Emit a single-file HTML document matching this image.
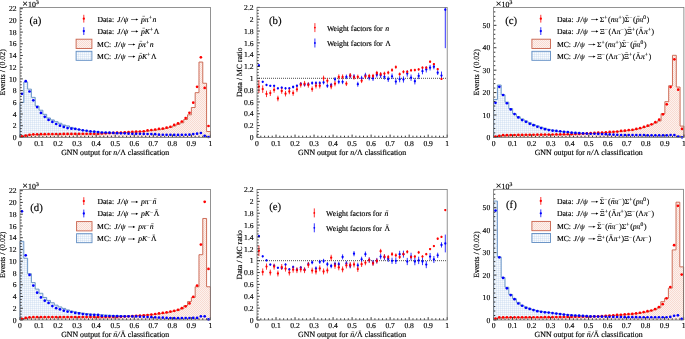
<!DOCTYPE html>
<html><head><meta charset="utf-8"><style>
html,body{margin:0;padding:0;background:#fff;width:685px;height:339px;overflow:hidden}
svg{display:block;will-change:transform}
text{font-family:"Liberation Serif",serif;fill:#000;white-space:pre;stroke:#000;stroke-width:0.15px;text-rendering:geometricPrecision}
</style></head><body>
<svg width="685" height="339" viewBox="0 0 685 339">
<defs>
<pattern id="pb" patternUnits="userSpaceOnUse" width="2" height="2"><rect width="2" height="2" fill="#f8fbfe"/><path d="M0 0h2v1h-2zM0 1h1v1h-1z" fill="#e6eef8"/><path d="M0 0h1v1h-1z" fill="#d8e5f4"/></pattern>
<pattern id="pr" patternUnits="userSpaceOnUse" width="2" height="2"><rect width="2" height="2" fill="#fdf1ed"/><path d="M0 0h1v1h-1zM1 1h1v1h-1z" fill="#f8dbd2"/></pattern>
</defs>
<rect width="685" height="339" fill="#fff"/>
<path d="M20.00 137.40 L20.00 102.50 L23.81 102.50 L23.81 82.07 L27.62 82.07 L27.62 89.14 L31.42 89.14 L31.42 97.38 L35.23 97.38 L35.23 106.03 L39.04 106.03 L39.04 110.21 L42.85 110.21 L42.85 114.33 L46.66 114.33 L46.66 117.98 L50.46 117.98 L50.46 119.92 L54.27 119.92 L54.27 121.69 L58.08 121.69 L58.08 123.27 L61.89 123.27 L61.89 125.04 L65.70 125.04 L65.70 125.92 L69.50 125.92 L69.50 127.39 L73.31 127.39 L73.31 128.87 L77.12 128.87 L77.12 129.57 L80.93 129.57 L80.93 130.34 L84.74 130.34 L84.74 130.93 L88.54 130.93 L88.54 131.40 L92.35 131.40 L92.35 131.69 L96.16 131.69 L96.16 131.99 L99.97 131.99 L99.97 132.22 L103.78 132.22 L103.78 132.46 L107.58 132.46 L107.58 132.65 L111.39 132.65 L111.39 132.85 L115.20 132.85 L115.20 133.04 L119.01 133.04 L119.01 133.22 L122.82 133.22 L122.82 133.40 L126.62 133.40 L126.62 133.57 L130.43 133.57 L130.43 133.72 L134.24 133.72 L134.24 133.87 L138.05 133.87 L138.05 133.99 L141.86 133.99 L141.86 134.10 L145.66 134.10 L145.66 134.22 L149.47 134.22 L149.47 134.34 L153.28 134.34 L153.28 134.46 L157.09 134.46 L157.09 134.49 L160.90 134.49 L160.90 134.53 L164.70 134.53 L164.70 134.56 L168.51 134.56 L168.51 134.60 L172.32 134.60 L172.32 134.63 L176.13 134.63 L176.13 134.59 L179.94 134.59 L179.94 134.55 L183.74 134.55 L183.74 134.50 L187.55 134.50 L187.55 134.46 L191.36 134.46 L191.36 134.16 L195.17 134.16 L195.17 133.87 L198.98 133.87 L198.98 132.69 L202.78 132.69 L202.78 135.34 L206.59 135.34 L206.59 136.81 L210.40 136.81 L210.40 137.40" fill="url(#pb)" stroke="#5f8cc2" stroke-width="0.9"/>
<path d="M20.00 137.40 L20.00 136.52 L23.81 136.52 L23.81 135.34 L27.62 135.34 L27.62 134.75 L31.42 134.75 L31.42 134.46 L35.23 134.46 L35.23 134.40 L39.04 134.40 L39.04 134.34 L42.85 134.34 L42.85 134.30 L46.66 134.30 L46.66 134.27 L50.46 134.27 L50.46 134.23 L54.27 134.23 L54.27 134.20 L58.08 134.20 L58.08 134.16 L61.89 134.16 L61.89 134.14 L65.70 134.14 L65.70 134.12 L69.50 134.12 L69.50 134.09 L73.31 134.09 L73.31 134.07 L77.12 134.07 L77.12 134.05 L80.93 134.05 L80.93 134.03 L84.74 134.03 L84.74 134.02 L88.54 134.02 L88.54 134.01 L92.35 134.01 L92.35 134.00 L96.16 134.00 L96.16 133.99 L99.97 133.99 L99.97 133.79 L103.78 133.79 L103.78 133.59 L107.58 133.59 L107.58 133.39 L111.39 133.39 L111.39 133.19 L115.20 133.19 L115.20 132.99 L119.01 132.99 L119.01 132.77 L122.82 132.77 L122.82 132.55 L126.62 132.55 L126.62 132.34 L130.43 132.34 L130.43 132.16 L134.24 132.16 L134.24 131.99 L138.05 131.99 L138.05 131.67 L141.86 131.67 L141.86 131.36 L145.66 131.36 L145.66 131.04 L149.47 131.04 L149.47 130.63 L153.28 130.63 L153.28 130.22 L157.09 130.22 L157.09 129.69 L160.90 129.69 L160.90 129.16 L164.70 129.16 L164.70 128.28 L168.51 128.28 L168.51 127.39 L172.32 127.39 L172.32 125.92 L176.13 125.92 L176.13 124.45 L179.94 124.45 L179.94 122.80 L183.74 122.80 L183.74 119.51 L187.55 119.51 L187.55 114.80 L191.36 114.80 L191.36 107.50 L195.17 107.50 L195.17 92.67 L198.98 92.67 L198.98 62.06 L202.78 62.06 L202.78 83.25 L206.59 83.25 L206.59 131.51 L210.40 131.51 L210.40 137.40" fill="url(#pr)" stroke="#c8604a" stroke-width="0.9"/>
<circle cx="21.90" cy="136.40" r="1.35" fill="#ff0000"/>
<circle cx="25.71" cy="135.63" r="1.35" fill="#ff0000"/>
<circle cx="29.52" cy="134.93" r="1.35" fill="#ff0000"/>
<circle cx="33.33" cy="134.46" r="1.35" fill="#ff0000"/>
<circle cx="37.14" cy="134.31" r="1.35" fill="#ff0000"/>
<circle cx="40.94" cy="134.16" r="1.35" fill="#ff0000"/>
<circle cx="44.75" cy="134.13" r="1.35" fill="#ff0000"/>
<circle cx="48.56" cy="134.09" r="1.35" fill="#ff0000"/>
<circle cx="52.37" cy="134.06" r="1.35" fill="#ff0000"/>
<circle cx="56.18" cy="134.02" r="1.35" fill="#ff0000"/>
<circle cx="59.98" cy="133.99" r="1.35" fill="#ff0000"/>
<circle cx="63.79" cy="133.96" r="1.35" fill="#ff0000"/>
<circle cx="67.60" cy="133.93" r="1.35" fill="#ff0000"/>
<circle cx="71.41" cy="133.90" r="1.35" fill="#ff0000"/>
<circle cx="75.22" cy="133.87" r="1.35" fill="#ff0000"/>
<circle cx="79.02" cy="133.86" r="1.35" fill="#ff0000"/>
<circle cx="82.83" cy="133.85" r="1.35" fill="#ff0000"/>
<circle cx="86.64" cy="133.84" r="1.35" fill="#ff0000"/>
<circle cx="90.45" cy="133.83" r="1.35" fill="#ff0000"/>
<circle cx="94.26" cy="133.82" r="1.35" fill="#ff0000"/>
<circle cx="98.06" cy="133.81" r="1.35" fill="#ff0000"/>
<circle cx="101.87" cy="133.52" r="1.35" fill="#ff0000"/>
<circle cx="105.68" cy="133.28" r="1.35" fill="#ff0000"/>
<circle cx="109.49" cy="133.04" r="1.35" fill="#ff0000"/>
<circle cx="113.30" cy="132.81" r="1.35" fill="#ff0000"/>
<circle cx="117.10" cy="132.69" r="1.35" fill="#ff0000"/>
<circle cx="120.91" cy="132.51" r="1.35" fill="#ff0000"/>
<circle cx="124.72" cy="132.28" r="1.35" fill="#ff0000"/>
<circle cx="128.53" cy="132.10" r="1.35" fill="#ff0000"/>
<circle cx="132.34" cy="131.81" r="1.35" fill="#ff0000"/>
<circle cx="136.14" cy="131.63" r="1.35" fill="#ff0000"/>
<circle cx="139.95" cy="131.51" r="1.35" fill="#ff0000"/>
<circle cx="143.76" cy="131.28" r="1.35" fill="#ff0000"/>
<circle cx="147.57" cy="130.45" r="1.35" fill="#ff0000"/>
<circle cx="151.38" cy="129.98" r="1.35" fill="#ff0000"/>
<circle cx="155.18" cy="129.51" r="1.35" fill="#ff0000"/>
<circle cx="158.99" cy="128.81" r="1.35" fill="#ff0000"/>
<circle cx="162.80" cy="128.57" r="1.35" fill="#ff0000"/>
<circle cx="166.61" cy="127.63" r="1.35" fill="#ff0000"/>
<circle cx="170.42" cy="126.75" r="1.35" fill="#ff0000"/>
<circle cx="174.22" cy="124.92" r="1.35" fill="#ff0000"/>
<circle cx="178.03" cy="123.33" r="1.35" fill="#ff0000"/>
<circle cx="181.84" cy="121.51" r="1.35" fill="#ff0000"/>
<circle cx="185.65" cy="118.09" r="1.35" fill="#ff0000"/>
<circle cx="189.46" cy="112.80" r="1.35" fill="#ff0000"/>
<circle cx="193.26" cy="102.67" r="1.35" fill="#ff0000"/>
<circle cx="197.07" cy="86.78" r="1.35" fill="#ff0000"/>
<circle cx="200.88" cy="57.35" r="1.35" fill="#ff0000"/>
<circle cx="204.69" cy="87.96" r="1.35" fill="#ff0000"/>
<circle cx="208.50" cy="125.98" r="1.35" fill="#ff0000"/>
<circle cx="21.90" cy="93.85" r="1.35" fill="#0000ff"/>
<circle cx="25.71" cy="81.19" r="1.35" fill="#0000ff"/>
<circle cx="29.52" cy="91.49" r="1.35" fill="#0000ff"/>
<circle cx="33.33" cy="100.32" r="1.35" fill="#0000ff"/>
<circle cx="37.14" cy="107.09" r="1.35" fill="#0000ff"/>
<circle cx="40.94" cy="112.92" r="1.35" fill="#0000ff"/>
<circle cx="44.75" cy="116.80" r="1.35" fill="#0000ff"/>
<circle cx="48.56" cy="119.92" r="1.35" fill="#0000ff"/>
<circle cx="52.37" cy="121.92" r="1.35" fill="#0000ff"/>
<circle cx="56.18" cy="123.98" r="1.35" fill="#0000ff"/>
<circle cx="59.98" cy="125.69" r="1.35" fill="#0000ff"/>
<circle cx="63.79" cy="126.92" r="1.35" fill="#0000ff"/>
<circle cx="67.60" cy="128.10" r="1.35" fill="#0000ff"/>
<circle cx="71.41" cy="128.69" r="1.35" fill="#0000ff"/>
<circle cx="75.22" cy="128.81" r="1.35" fill="#0000ff"/>
<circle cx="79.02" cy="129.51" r="1.35" fill="#0000ff"/>
<circle cx="82.83" cy="130.34" r="1.35" fill="#0000ff"/>
<circle cx="86.64" cy="130.75" r="1.35" fill="#0000ff"/>
<circle cx="90.45" cy="131.46" r="1.35" fill="#0000ff"/>
<circle cx="94.26" cy="131.63" r="1.35" fill="#0000ff"/>
<circle cx="98.06" cy="132.04" r="1.35" fill="#0000ff"/>
<circle cx="101.87" cy="132.51" r="1.35" fill="#0000ff"/>
<circle cx="105.68" cy="132.51" r="1.35" fill="#0000ff"/>
<circle cx="109.49" cy="132.69" r="1.35" fill="#0000ff"/>
<circle cx="113.30" cy="132.93" r="1.35" fill="#0000ff"/>
<circle cx="117.10" cy="133.16" r="1.35" fill="#0000ff"/>
<circle cx="120.91" cy="133.34" r="1.35" fill="#0000ff"/>
<circle cx="124.72" cy="133.34" r="1.35" fill="#0000ff"/>
<circle cx="128.53" cy="133.63" r="1.35" fill="#0000ff"/>
<circle cx="132.34" cy="133.81" r="1.35" fill="#0000ff"/>
<circle cx="136.14" cy="133.84" r="1.35" fill="#0000ff"/>
<circle cx="139.95" cy="133.87" r="1.35" fill="#0000ff"/>
<circle cx="143.76" cy="133.93" r="1.35" fill="#0000ff"/>
<circle cx="147.57" cy="133.99" r="1.35" fill="#0000ff"/>
<circle cx="151.38" cy="134.07" r="1.35" fill="#0000ff"/>
<circle cx="155.18" cy="134.16" r="1.35" fill="#0000ff"/>
<circle cx="158.99" cy="134.69" r="1.35" fill="#0000ff"/>
<circle cx="162.80" cy="134.74" r="1.35" fill="#0000ff"/>
<circle cx="166.61" cy="134.79" r="1.35" fill="#0000ff"/>
<circle cx="170.42" cy="134.83" r="1.35" fill="#0000ff"/>
<circle cx="174.22" cy="134.88" r="1.35" fill="#0000ff"/>
<circle cx="178.03" cy="134.93" r="1.35" fill="#0000ff"/>
<circle cx="181.84" cy="134.85" r="1.35" fill="#0000ff"/>
<circle cx="185.65" cy="134.77" r="1.35" fill="#0000ff"/>
<circle cx="189.46" cy="134.69" r="1.35" fill="#0000ff"/>
<circle cx="193.26" cy="134.10" r="1.35" fill="#0000ff"/>
<circle cx="197.07" cy="133.69" r="1.35" fill="#0000ff"/>
<circle cx="200.88" cy="132.99" r="1.35" fill="#0000ff"/>
<circle cx="204.69" cy="135.81" r="1.35" fill="#0000ff"/>
<circle cx="208.50" cy="136.99" r="1.35" fill="#0000ff"/>
<path d="M20.00 137.40 v-2.80 M23.81 137.40 v-1.70 M27.62 137.40 v-1.70 M31.42 137.40 v-1.70 M35.23 137.40 v-1.70 M39.04 137.40 v-2.80 M42.85 137.40 v-1.70 M46.66 137.40 v-1.70 M50.46 137.40 v-1.70 M54.27 137.40 v-1.70 M58.08 137.40 v-2.80 M61.89 137.40 v-1.70 M65.70 137.40 v-1.70 M69.50 137.40 v-1.70 M73.31 137.40 v-1.70 M77.12 137.40 v-2.80 M80.93 137.40 v-1.70 M84.74 137.40 v-1.70 M88.54 137.40 v-1.70 M92.35 137.40 v-1.70 M96.16 137.40 v-2.80 M99.97 137.40 v-1.70 M103.78 137.40 v-1.70 M107.58 137.40 v-1.70 M111.39 137.40 v-1.70 M115.20 137.40 v-2.80 M119.01 137.40 v-1.70 M122.82 137.40 v-1.70 M126.62 137.40 v-1.70 M130.43 137.40 v-1.70 M134.24 137.40 v-2.80 M138.05 137.40 v-1.70 M141.86 137.40 v-1.70 M145.66 137.40 v-1.70 M149.47 137.40 v-1.70 M153.28 137.40 v-2.80 M157.09 137.40 v-1.70 M160.90 137.40 v-1.70 M164.70 137.40 v-1.70 M168.51 137.40 v-1.70 M172.32 137.40 v-2.80 M176.13 137.40 v-1.70 M179.94 137.40 v-1.70 M183.74 137.40 v-1.70 M187.55 137.40 v-1.70 M191.36 137.40 v-2.80 M195.17 137.40 v-1.70 M198.98 137.40 v-1.70 M202.78 137.40 v-1.70 M206.59 137.40 v-1.70 M210.40 137.40 v-2.80 M20.00 137.40 h2.80 M20.00 134.47 h1.70 M20.00 131.55 h1.70 M20.00 128.62 h1.70 M20.00 125.70 h2.80 M20.00 122.77 h1.70 M20.00 119.85 h1.70 M20.00 116.92 h1.70 M20.00 114.00 h2.80 M20.00 111.07 h1.70 M20.00 108.15 h1.70 M20.00 105.22 h1.70 M20.00 102.30 h2.80 M20.00 99.37 h1.70 M20.00 96.45 h1.70 M20.00 93.52 h1.70 M20.00 90.60 h2.80 M20.00 87.67 h1.70 M20.00 84.74 h1.70 M20.00 81.82 h1.70 M20.00 78.89 h2.80 M20.00 75.97 h1.70 M20.00 73.04 h1.70 M20.00 70.12 h1.70 M20.00 67.19 h2.80 M20.00 64.27 h1.70 M20.00 61.34 h1.70 M20.00 58.42 h1.70 M20.00 55.49 h2.80 M20.00 52.57 h1.70 M20.00 49.64 h1.70 M20.00 46.72 h1.70 M20.00 43.79 h2.80 M20.00 40.87 h1.70 M20.00 37.94 h1.70 M20.00 35.01 h1.70 M20.00 32.09 h2.80 M20.00 29.16 h1.70 M20.00 26.24 h1.70 M20.00 23.31 h1.70 M20.00 20.39 h2.80 M20.00 17.46 h1.70 M20.00 14.54 h1.70 M20.00 11.61 h1.70 M20.00 8.69 h2.80" stroke="#111" stroke-width="0.85" fill="none"/>
<rect x="20.00" y="7.40" width="190.40" height="130.00" fill="none" stroke="#777" stroke-width="0.80"/>
<text x="20.00" y="145.50" text-anchor="middle" font-size="7.60">0</text>
<text x="39.04" y="145.50" text-anchor="middle" font-size="7.60">0.1</text>
<text x="58.08" y="145.50" text-anchor="middle" font-size="7.60">0.2</text>
<text x="77.12" y="145.50" text-anchor="middle" font-size="7.60">0.3</text>
<text x="96.16" y="145.50" text-anchor="middle" font-size="7.60">0.4</text>
<text x="115.20" y="145.50" text-anchor="middle" font-size="7.60">0.5</text>
<text x="134.24" y="145.50" text-anchor="middle" font-size="7.60">0.6</text>
<text x="153.28" y="145.50" text-anchor="middle" font-size="7.60">0.7</text>
<text x="172.32" y="145.50" text-anchor="middle" font-size="7.60">0.8</text>
<text x="191.36" y="145.50" text-anchor="middle" font-size="7.60">0.9</text>
<text x="210.40" y="145.50" text-anchor="middle" font-size="7.60">1</text>
<text x="16.60" y="140.10" text-anchor="end" font-size="7.60">0</text>
<text x="16.60" y="128.40" text-anchor="end" font-size="7.60">2</text>
<text x="16.60" y="116.70" text-anchor="end" font-size="7.60">4</text>
<text x="16.60" y="105.00" text-anchor="end" font-size="7.60">6</text>
<text x="16.60" y="93.30" text-anchor="end" font-size="7.60">8</text>
<text x="16.60" y="81.59" text-anchor="end" font-size="7.60">10</text>
<text x="16.60" y="69.89" text-anchor="end" font-size="7.60">12</text>
<text x="16.60" y="58.19" text-anchor="end" font-size="7.60">14</text>
<text x="16.60" y="46.49" text-anchor="end" font-size="7.60">16</text>
<text x="16.60" y="34.79" text-anchor="end" font-size="7.60">18</text>
<text x="16.60" y="23.09" text-anchor="end" font-size="7.60">20</text>
<text x="16.60" y="11.39" text-anchor="end" font-size="7.60">22</text>
<path d="M493.60 137.40 L493.60 99.46 L497.41 99.46 L497.41 85.03 L501.21 85.03 L501.21 94.80 L505.02 94.80 L505.02 102.12 L508.82 102.12 L508.82 108.55 L512.63 108.55 L512.63 113.88 L516.44 113.88 L516.44 116.76 L520.24 116.76 L520.24 118.98 L524.05 118.98 L524.05 120.98 L527.85 120.98 L527.85 122.75 L531.66 122.75 L531.66 124.53 L535.47 124.53 L535.47 125.86 L539.27 125.86 L539.27 127.19 L543.08 127.19 L543.08 128.30 L546.88 128.30 L546.88 129.41 L550.69 129.41 L550.69 130.24 L554.50 130.24 L554.50 131.08 L558.30 131.08 L558.30 131.46 L562.11 131.46 L562.11 131.85 L565.91 131.85 L565.91 132.24 L569.72 132.24 L569.72 132.63 L573.53 132.63 L573.53 132.85 L577.33 132.85 L577.33 133.07 L581.14 133.07 L581.14 133.29 L584.94 133.29 L584.94 133.52 L588.75 133.52 L588.75 133.66 L592.56 133.66 L592.56 133.79 L596.36 133.79 L596.36 133.93 L600.17 133.93 L600.17 134.07 L603.97 134.07 L603.97 134.24 L607.78 134.24 L607.78 134.40 L611.59 134.40 L611.59 134.59 L615.39 134.59 L615.39 134.77 L619.20 134.77 L619.20 134.96 L623.00 134.96 L623.00 134.99 L626.81 134.99 L626.81 135.02 L630.62 135.02 L630.62 135.05 L634.42 135.05 L634.42 135.09 L638.23 135.09 L638.23 135.12 L642.03 135.12 L642.03 135.15 L645.84 135.15 L645.84 135.18 L649.65 135.18 L649.65 135.18 L653.45 135.18 L653.45 135.18 L657.26 135.18 L657.26 135.18 L661.06 135.18 L661.06 135.18 L664.87 135.18 L664.87 135.18 L668.68 135.18 L668.68 134.96 L672.48 134.96 L672.48 134.96 L676.29 134.96 L676.29 136.29 L680.09 136.29 L680.09 137.18 L683.90 137.18 L683.90 137.40" fill="url(#pb)" stroke="#5f8cc2" stroke-width="0.9"/>
<path d="M493.60 137.40 L493.60 136.73 L497.41 136.73 L497.41 136.07 L501.21 136.07 L501.21 135.40 L505.02 135.40 L505.02 135.18 L508.82 135.18 L508.82 135.12 L512.63 135.12 L512.63 135.05 L516.44 135.05 L516.44 134.99 L520.24 134.99 L520.24 134.93 L524.05 134.93 L524.05 134.86 L527.85 134.86 L527.85 134.80 L531.66 134.80 L531.66 134.74 L535.47 134.74 L535.47 134.70 L539.27 134.70 L539.27 134.66 L543.08 134.66 L543.08 134.63 L546.88 134.63 L546.88 134.59 L550.69 134.59 L550.69 134.55 L554.50 134.55 L554.50 134.52 L558.30 134.52 L558.30 134.46 L562.11 134.46 L562.11 134.40 L565.91 134.40 L565.91 134.35 L569.72 134.35 L569.72 134.29 L573.53 134.29 L573.53 134.13 L577.33 134.13 L577.33 133.96 L581.14 133.96 L581.14 133.79 L584.94 133.79 L584.94 133.63 L588.75 133.63 L588.75 133.46 L592.56 133.46 L592.56 133.29 L596.36 133.29 L596.36 133.13 L600.17 133.13 L600.17 132.96 L603.97 132.96 L603.97 132.63 L607.78 132.63 L607.78 132.30 L611.59 132.30 L611.59 131.96 L615.39 131.96 L615.39 131.63 L619.20 131.63 L619.20 131.30 L623.00 131.30 L623.00 130.97 L626.81 130.97 L626.81 130.52 L630.62 130.52 L630.62 130.08 L634.42 130.08 L634.42 129.30 L638.23 129.30 L638.23 128.52 L642.03 128.52 L642.03 127.41 L645.84 127.41 L645.84 126.31 L649.65 126.31 L649.65 124.53 L653.45 124.53 L653.45 122.98 L657.26 122.98 L657.26 120.98 L661.06 120.98 L661.06 113.66 L664.87 113.66 L664.87 101.67 L668.68 101.67 L668.68 85.70 L672.48 85.70 L672.48 55.30 L676.29 55.30 L676.29 87.03 L680.09 87.03 L680.09 126.08 L683.90 126.08 L683.90 137.40" fill="url(#pr)" stroke="#c8604a" stroke-width="0.9"/>
<circle cx="495.50" cy="136.51" r="1.35" fill="#ff0000"/>
<circle cx="499.31" cy="135.85" r="1.35" fill="#ff0000"/>
<circle cx="503.12" cy="135.18" r="1.35" fill="#ff0000"/>
<circle cx="506.92" cy="135.13" r="1.35" fill="#ff0000"/>
<circle cx="510.73" cy="135.07" r="1.35" fill="#ff0000"/>
<circle cx="514.53" cy="135.01" r="1.35" fill="#ff0000"/>
<circle cx="518.34" cy="134.96" r="1.35" fill="#ff0000"/>
<circle cx="522.14" cy="134.90" r="1.35" fill="#ff0000"/>
<circle cx="525.95" cy="134.85" r="1.35" fill="#ff0000"/>
<circle cx="529.76" cy="134.79" r="1.35" fill="#ff0000"/>
<circle cx="533.56" cy="134.74" r="1.35" fill="#ff0000"/>
<circle cx="537.37" cy="134.69" r="1.35" fill="#ff0000"/>
<circle cx="541.17" cy="134.65" r="1.35" fill="#ff0000"/>
<circle cx="544.98" cy="134.60" r="1.35" fill="#ff0000"/>
<circle cx="548.79" cy="134.56" r="1.35" fill="#ff0000"/>
<circle cx="552.59" cy="134.52" r="1.35" fill="#ff0000"/>
<circle cx="556.40" cy="134.47" r="1.35" fill="#ff0000"/>
<circle cx="560.21" cy="134.38" r="1.35" fill="#ff0000"/>
<circle cx="564.01" cy="134.29" r="1.35" fill="#ff0000"/>
<circle cx="567.82" cy="134.25" r="1.35" fill="#ff0000"/>
<circle cx="571.62" cy="134.20" r="1.35" fill="#ff0000"/>
<circle cx="575.43" cy="134.07" r="1.35" fill="#ff0000"/>
<circle cx="579.24" cy="133.94" r="1.35" fill="#ff0000"/>
<circle cx="583.04" cy="133.76" r="1.35" fill="#ff0000"/>
<circle cx="586.85" cy="133.41" r="1.35" fill="#ff0000"/>
<circle cx="590.65" cy="133.05" r="1.35" fill="#ff0000"/>
<circle cx="594.46" cy="132.90" r="1.35" fill="#ff0000"/>
<circle cx="598.26" cy="132.72" r="1.35" fill="#ff0000"/>
<circle cx="602.07" cy="132.63" r="1.35" fill="#ff0000"/>
<circle cx="605.88" cy="132.45" r="1.35" fill="#ff0000"/>
<circle cx="609.68" cy="131.96" r="1.35" fill="#ff0000"/>
<circle cx="613.49" cy="131.85" r="1.35" fill="#ff0000"/>
<circle cx="617.29" cy="131.56" r="1.35" fill="#ff0000"/>
<circle cx="621.10" cy="130.97" r="1.35" fill="#ff0000"/>
<circle cx="624.91" cy="130.68" r="1.35" fill="#ff0000"/>
<circle cx="628.71" cy="130.08" r="1.35" fill="#ff0000"/>
<circle cx="632.52" cy="129.79" r="1.35" fill="#ff0000"/>
<circle cx="636.33" cy="128.95" r="1.35" fill="#ff0000"/>
<circle cx="640.13" cy="128.08" r="1.35" fill="#ff0000"/>
<circle cx="643.94" cy="126.90" r="1.35" fill="#ff0000"/>
<circle cx="647.74" cy="125.64" r="1.35" fill="#ff0000"/>
<circle cx="651.55" cy="124.31" r="1.35" fill="#ff0000"/>
<circle cx="655.36" cy="122.20" r="1.35" fill="#ff0000"/>
<circle cx="659.16" cy="119.65" r="1.35" fill="#ff0000"/>
<circle cx="662.97" cy="114.32" r="1.35" fill="#ff0000"/>
<circle cx="666.77" cy="104.34" r="1.35" fill="#ff0000"/>
<circle cx="670.58" cy="87.03" r="1.35" fill="#ff0000"/>
<circle cx="674.38" cy="59.29" r="1.35" fill="#ff0000"/>
<circle cx="678.19" cy="89.69" r="1.35" fill="#ff0000"/>
<circle cx="682.00" cy="128.97" r="1.35" fill="#ff0000"/>
<circle cx="495.50" cy="102.78" r="1.35" fill="#0000ff"/>
<circle cx="499.31" cy="86.81" r="1.35" fill="#0000ff"/>
<circle cx="503.12" cy="95.02" r="1.35" fill="#0000ff"/>
<circle cx="506.92" cy="103.23" r="1.35" fill="#0000ff"/>
<circle cx="510.73" cy="109.44" r="1.35" fill="#0000ff"/>
<circle cx="514.53" cy="114.10" r="1.35" fill="#0000ff"/>
<circle cx="518.34" cy="117.43" r="1.35" fill="#0000ff"/>
<circle cx="522.14" cy="120.09" r="1.35" fill="#0000ff"/>
<circle cx="525.95" cy="121.87" r="1.35" fill="#0000ff"/>
<circle cx="529.76" cy="123.86" r="1.35" fill="#0000ff"/>
<circle cx="533.56" cy="125.20" r="1.35" fill="#0000ff"/>
<circle cx="537.37" cy="126.75" r="1.35" fill="#0000ff"/>
<circle cx="541.17" cy="128.08" r="1.35" fill="#0000ff"/>
<circle cx="544.98" cy="129.19" r="1.35" fill="#0000ff"/>
<circle cx="548.79" cy="130.08" r="1.35" fill="#0000ff"/>
<circle cx="552.59" cy="130.63" r="1.35" fill="#0000ff"/>
<circle cx="556.40" cy="130.97" r="1.35" fill="#0000ff"/>
<circle cx="560.21" cy="131.32" r="1.35" fill="#0000ff"/>
<circle cx="564.01" cy="131.85" r="1.35" fill="#0000ff"/>
<circle cx="567.82" cy="132.01" r="1.35" fill="#0000ff"/>
<circle cx="571.62" cy="132.72" r="1.35" fill="#0000ff"/>
<circle cx="575.43" cy="132.90" r="1.35" fill="#0000ff"/>
<circle cx="579.24" cy="133.05" r="1.35" fill="#0000ff"/>
<circle cx="583.04" cy="133.32" r="1.35" fill="#0000ff"/>
<circle cx="586.85" cy="133.58" r="1.35" fill="#0000ff"/>
<circle cx="590.65" cy="133.76" r="1.35" fill="#0000ff"/>
<circle cx="594.46" cy="133.76" r="1.35" fill="#0000ff"/>
<circle cx="598.26" cy="133.94" r="1.35" fill="#0000ff"/>
<circle cx="602.07" cy="134.07" r="1.35" fill="#0000ff"/>
<circle cx="605.88" cy="134.18" r="1.35" fill="#0000ff"/>
<circle cx="609.68" cy="134.40" r="1.35" fill="#0000ff"/>
<circle cx="613.49" cy="134.63" r="1.35" fill="#0000ff"/>
<circle cx="617.29" cy="134.85" r="1.35" fill="#0000ff"/>
<circle cx="621.10" cy="135.07" r="1.35" fill="#0000ff"/>
<circle cx="624.91" cy="135.07" r="1.35" fill="#0000ff"/>
<circle cx="628.71" cy="135.07" r="1.35" fill="#0000ff"/>
<circle cx="632.52" cy="135.07" r="1.35" fill="#0000ff"/>
<circle cx="636.33" cy="135.07" r="1.35" fill="#0000ff"/>
<circle cx="640.13" cy="135.07" r="1.35" fill="#0000ff"/>
<circle cx="643.94" cy="135.07" r="1.35" fill="#0000ff"/>
<circle cx="647.74" cy="135.31" r="1.35" fill="#0000ff"/>
<circle cx="651.55" cy="135.31" r="1.35" fill="#0000ff"/>
<circle cx="655.36" cy="135.31" r="1.35" fill="#0000ff"/>
<circle cx="659.16" cy="135.31" r="1.35" fill="#0000ff"/>
<circle cx="662.97" cy="135.31" r="1.35" fill="#0000ff"/>
<circle cx="666.77" cy="135.31" r="1.35" fill="#0000ff"/>
<circle cx="670.58" cy="135.03" r="1.35" fill="#0000ff"/>
<circle cx="674.38" cy="135.03" r="1.35" fill="#0000ff"/>
<circle cx="678.19" cy="136.51" r="1.35" fill="#0000ff"/>
<circle cx="682.00" cy="137.29" r="1.35" fill="#0000ff"/>
<path d="M493.60 137.40 v-2.80 M497.41 137.40 v-1.70 M501.21 137.40 v-1.70 M505.02 137.40 v-1.70 M508.82 137.40 v-1.70 M512.63 137.40 v-2.80 M516.44 137.40 v-1.70 M520.24 137.40 v-1.70 M524.05 137.40 v-1.70 M527.85 137.40 v-1.70 M531.66 137.40 v-2.80 M535.47 137.40 v-1.70 M539.27 137.40 v-1.70 M543.08 137.40 v-1.70 M546.88 137.40 v-1.70 M550.69 137.40 v-2.80 M554.50 137.40 v-1.70 M558.30 137.40 v-1.70 M562.11 137.40 v-1.70 M565.91 137.40 v-1.70 M569.72 137.40 v-2.80 M573.53 137.40 v-1.70 M577.33 137.40 v-1.70 M581.14 137.40 v-1.70 M584.94 137.40 v-1.70 M588.75 137.40 v-2.80 M592.56 137.40 v-1.70 M596.36 137.40 v-1.70 M600.17 137.40 v-1.70 M603.97 137.40 v-1.70 M607.78 137.40 v-2.80 M611.59 137.40 v-1.70 M615.39 137.40 v-1.70 M619.20 137.40 v-1.70 M623.00 137.40 v-1.70 M626.81 137.40 v-2.80 M630.62 137.40 v-1.70 M634.42 137.40 v-1.70 M638.23 137.40 v-1.70 M642.03 137.40 v-1.70 M645.84 137.40 v-2.80 M649.65 137.40 v-1.70 M653.45 137.40 v-1.70 M657.26 137.40 v-1.70 M661.06 137.40 v-1.70 M664.87 137.40 v-2.80 M668.68 137.40 v-1.70 M672.48 137.40 v-1.70 M676.29 137.40 v-1.70 M680.09 137.40 v-1.70 M683.90 137.40 v-2.80 M493.60 137.40 h2.80 M493.60 132.92 h1.70 M493.60 128.43 h1.70 M493.60 123.95 h1.70 M493.60 119.47 h1.70 M493.60 114.99 h2.80 M493.60 110.50 h1.70 M493.60 106.02 h1.70 M493.60 101.54 h1.70 M493.60 97.06 h1.70 M493.60 92.57 h2.80 M493.60 88.09 h1.70 M493.60 83.61 h1.70 M493.60 79.12 h1.70 M493.60 74.64 h1.70 M493.60 70.16 h2.80 M493.60 65.68 h1.70 M493.60 61.19 h1.70 M493.60 56.71 h1.70 M493.60 52.23 h1.70 M493.60 47.74 h2.80 M493.60 43.26 h1.70 M493.60 38.78 h1.70 M493.60 34.30 h1.70 M493.60 29.81 h1.70 M493.60 25.33 h2.80 M493.60 20.85 h1.70 M493.60 16.37 h1.70 M493.60 11.88 h1.70 M493.60 7.40 h1.70" stroke="#111" stroke-width="0.85" fill="none"/>
<rect x="493.60" y="7.40" width="190.30" height="130.00" fill="none" stroke="#777" stroke-width="0.80"/>
<text x="493.60" y="145.50" text-anchor="middle" font-size="7.60">0</text>
<text x="512.63" y="145.50" text-anchor="middle" font-size="7.60">0.1</text>
<text x="531.66" y="145.50" text-anchor="middle" font-size="7.60">0.2</text>
<text x="550.69" y="145.50" text-anchor="middle" font-size="7.60">0.3</text>
<text x="569.72" y="145.50" text-anchor="middle" font-size="7.60">0.4</text>
<text x="588.75" y="145.50" text-anchor="middle" font-size="7.60">0.5</text>
<text x="607.78" y="145.50" text-anchor="middle" font-size="7.60">0.6</text>
<text x="626.81" y="145.50" text-anchor="middle" font-size="7.60">0.7</text>
<text x="645.84" y="145.50" text-anchor="middle" font-size="7.60">0.8</text>
<text x="664.87" y="145.50" text-anchor="middle" font-size="7.60">0.9</text>
<text x="683.90" y="145.50" text-anchor="middle" font-size="7.60">1</text>
<text x="490.20" y="140.10" text-anchor="end" font-size="7.60">0</text>
<text x="490.20" y="117.69" text-anchor="end" font-size="7.60">10</text>
<text x="490.20" y="95.27" text-anchor="end" font-size="7.60">20</text>
<text x="490.20" y="72.86" text-anchor="end" font-size="7.60">30</text>
<text x="490.20" y="50.44" text-anchor="end" font-size="7.60">40</text>
<text x="490.20" y="28.03" text-anchor="end" font-size="7.60">50</text>
<path d="M20.00 320.00 L20.00 241.33 L23.81 241.33 L23.81 258.25 L27.62 258.25 L27.62 273.69 L31.42 273.69 L31.42 282.60 L35.23 282.60 L35.23 289.13 L39.04 289.13 L39.04 293.28 L42.85 293.28 L42.85 297.44 L46.66 297.44 L46.66 300.41 L50.46 300.41 L50.46 302.78 L54.27 302.78 L54.27 305.16 L58.08 305.16 L58.08 306.94 L61.89 306.94 L61.89 308.42 L65.70 308.42 L65.70 309.91 L69.50 309.91 L69.50 311.09 L73.31 311.09 L73.31 311.98 L77.12 311.98 L77.12 312.58 L80.93 312.58 L80.93 313.17 L84.74 313.17 L84.74 313.62 L88.54 313.62 L88.54 314.06 L92.35 314.06 L92.35 314.36 L96.16 314.36 L96.16 314.66 L99.97 314.66 L99.97 314.87 L103.78 314.87 L103.78 315.08 L107.58 315.08 L107.58 315.30 L111.39 315.30 L111.39 315.51 L115.20 315.51 L115.20 315.73 L119.01 315.73 L119.01 315.93 L122.82 315.93 L122.82 316.13 L126.62 316.13 L126.62 316.33 L130.43 316.33 L130.43 316.53 L134.24 316.53 L134.24 316.73 L138.05 316.73 L138.05 316.85 L141.86 316.85 L141.86 316.97 L145.66 316.97 L145.66 317.09 L149.47 317.09 L149.47 317.21 L153.28 317.21 L153.28 317.33 L157.09 317.33 L157.09 317.45 L160.90 317.45 L160.90 317.57 L164.70 317.57 L164.70 317.68 L168.51 317.68 L168.51 317.80 L172.32 317.80 L172.32 317.92 L176.13 317.92 L176.13 317.92 L179.94 317.92 L179.94 317.92 L183.74 317.92 L183.74 317.92 L187.55 317.92 L187.55 317.92 L191.36 317.92 L191.36 317.92 L195.17 317.92 L195.17 317.33 L198.98 317.33 L198.98 316.73 L202.78 316.73 L202.78 317.03 L206.59 317.03 L206.59 319.41 L210.40 319.41 L210.40 320.00" fill="url(#pb)" stroke="#5f8cc2" stroke-width="0.9"/>
<path d="M20.00 320.00 L20.00 319.41 L23.81 319.41 L23.81 318.22 L27.62 318.22 L27.62 317.63 L31.42 317.63 L31.42 317.33 L35.23 317.33 L35.23 317.30 L39.04 317.30 L39.04 317.28 L42.85 317.28 L42.85 317.25 L46.66 317.25 L46.66 317.23 L50.46 317.23 L50.46 317.20 L54.27 317.20 L54.27 317.18 L58.08 317.18 L58.08 317.15 L61.89 317.15 L61.89 317.14 L65.70 317.14 L65.70 317.13 L69.50 317.13 L69.50 317.11 L73.31 317.11 L73.31 317.10 L77.12 317.10 L77.12 317.09 L80.93 317.09 L80.93 317.08 L84.74 317.08 L84.74 317.07 L88.54 317.07 L88.54 317.06 L92.35 317.06 L92.35 317.04 L96.16 317.04 L96.16 317.03 L99.97 317.03 L99.97 316.97 L103.78 316.97 L103.78 316.91 L107.58 316.91 L107.58 316.85 L111.39 316.85 L111.39 316.79 L115.20 316.79 L115.20 316.73 L119.01 316.73 L119.01 316.56 L122.82 316.56 L122.82 316.38 L126.62 316.38 L126.62 316.20 L130.43 316.20 L130.43 316.02 L134.24 316.02 L134.24 315.84 L138.05 315.84 L138.05 315.55 L141.86 315.55 L141.86 315.25 L145.66 315.25 L145.66 314.95 L149.47 314.95 L149.47 314.66 L153.28 314.66 L153.28 314.36 L157.09 314.36 L157.09 313.86 L160.90 313.86 L160.90 313.37 L164.70 313.37 L164.70 312.88 L168.51 312.88 L168.51 311.98 L172.32 311.98 L172.32 311.09 L176.13 311.09 L176.13 310.20 L179.94 310.20 L179.94 308.72 L183.74 308.72 L183.74 305.75 L187.55 305.75 L187.55 301.59 L191.36 301.59 L191.36 297.44 L195.17 297.44 L195.17 286.75 L198.98 286.75 L198.98 254.69 L202.78 254.69 L202.78 218.47 L206.59 218.47 L206.59 286.75 L210.40 286.75 L210.40 320.00" fill="url(#pr)" stroke="#c8604a" stroke-width="0.9"/>
<circle cx="21.90" cy="318.81" r="1.35" fill="#ff0000"/>
<circle cx="25.71" cy="317.92" r="1.35" fill="#ff0000"/>
<circle cx="29.52" cy="317.33" r="1.35" fill="#ff0000"/>
<circle cx="33.33" cy="317.03" r="1.35" fill="#ff0000"/>
<circle cx="37.14" cy="317.04" r="1.35" fill="#ff0000"/>
<circle cx="40.94" cy="317.04" r="1.35" fill="#ff0000"/>
<circle cx="44.75" cy="317.05" r="1.35" fill="#ff0000"/>
<circle cx="48.56" cy="317.06" r="1.35" fill="#ff0000"/>
<circle cx="52.37" cy="317.06" r="1.35" fill="#ff0000"/>
<circle cx="56.18" cy="317.07" r="1.35" fill="#ff0000"/>
<circle cx="59.98" cy="317.08" r="1.35" fill="#ff0000"/>
<circle cx="63.79" cy="317.08" r="1.35" fill="#ff0000"/>
<circle cx="67.60" cy="317.09" r="1.35" fill="#ff0000"/>
<circle cx="71.41" cy="317.09" r="1.35" fill="#ff0000"/>
<circle cx="75.22" cy="317.08" r="1.35" fill="#ff0000"/>
<circle cx="79.02" cy="317.08" r="1.35" fill="#ff0000"/>
<circle cx="82.83" cy="317.07" r="1.35" fill="#ff0000"/>
<circle cx="86.64" cy="317.07" r="1.35" fill="#ff0000"/>
<circle cx="90.45" cy="317.06" r="1.35" fill="#ff0000"/>
<circle cx="94.26" cy="317.06" r="1.35" fill="#ff0000"/>
<circle cx="98.06" cy="317.05" r="1.35" fill="#ff0000"/>
<circle cx="101.87" cy="317.05" r="1.35" fill="#ff0000"/>
<circle cx="105.68" cy="317.05" r="1.35" fill="#ff0000"/>
<circle cx="109.49" cy="317.04" r="1.35" fill="#ff0000"/>
<circle cx="113.30" cy="317.04" r="1.35" fill="#ff0000"/>
<circle cx="117.10" cy="317.03" r="1.35" fill="#ff0000"/>
<circle cx="120.91" cy="316.79" r="1.35" fill="#ff0000"/>
<circle cx="124.72" cy="316.56" r="1.35" fill="#ff0000"/>
<circle cx="128.53" cy="316.32" r="1.35" fill="#ff0000"/>
<circle cx="132.34" cy="316.08" r="1.35" fill="#ff0000"/>
<circle cx="136.14" cy="315.84" r="1.35" fill="#ff0000"/>
<circle cx="139.95" cy="315.59" r="1.35" fill="#ff0000"/>
<circle cx="143.76" cy="315.33" r="1.35" fill="#ff0000"/>
<circle cx="147.57" cy="315.07" r="1.35" fill="#ff0000"/>
<circle cx="151.38" cy="314.54" r="1.35" fill="#ff0000"/>
<circle cx="155.18" cy="314.00" r="1.35" fill="#ff0000"/>
<circle cx="158.99" cy="313.47" r="1.35" fill="#ff0000"/>
<circle cx="162.80" cy="312.88" r="1.35" fill="#ff0000"/>
<circle cx="166.61" cy="312.28" r="1.35" fill="#ff0000"/>
<circle cx="170.42" cy="311.57" r="1.35" fill="#ff0000"/>
<circle cx="174.22" cy="310.80" r="1.35" fill="#ff0000"/>
<circle cx="178.03" cy="309.79" r="1.35" fill="#ff0000"/>
<circle cx="181.84" cy="308.13" r="1.35" fill="#ff0000"/>
<circle cx="185.65" cy="306.34" r="1.35" fill="#ff0000"/>
<circle cx="189.46" cy="303.38" r="1.35" fill="#ff0000"/>
<circle cx="193.26" cy="296.85" r="1.35" fill="#ff0000"/>
<circle cx="197.07" cy="285.56" r="1.35" fill="#ff0000"/>
<circle cx="200.88" cy="244.60" r="1.35" fill="#ff0000"/>
<circle cx="204.69" cy="201.85" r="1.35" fill="#ff0000"/>
<circle cx="208.50" cy="268.94" r="1.35" fill="#ff0000"/>
<circle cx="21.90" cy="211.35" r="1.35" fill="#0000ff"/>
<circle cx="25.71" cy="255.28" r="1.35" fill="#0000ff"/>
<circle cx="29.52" cy="274.88" r="1.35" fill="#0000ff"/>
<circle cx="33.33" cy="285.56" r="1.35" fill="#0000ff"/>
<circle cx="37.14" cy="292.69" r="1.35" fill="#0000ff"/>
<circle cx="40.94" cy="297.44" r="1.35" fill="#0000ff"/>
<circle cx="44.75" cy="300.70" r="1.35" fill="#0000ff"/>
<circle cx="48.56" cy="302.96" r="1.35" fill="#0000ff"/>
<circle cx="52.37" cy="306.05" r="1.35" fill="#0000ff"/>
<circle cx="56.18" cy="308.13" r="1.35" fill="#0000ff"/>
<circle cx="59.98" cy="309.31" r="1.35" fill="#0000ff"/>
<circle cx="63.79" cy="310.68" r="1.35" fill="#0000ff"/>
<circle cx="67.60" cy="311.57" r="1.35" fill="#0000ff"/>
<circle cx="71.41" cy="311.98" r="1.35" fill="#0000ff"/>
<circle cx="75.22" cy="312.88" r="1.35" fill="#0000ff"/>
<circle cx="79.02" cy="313.47" r="1.35" fill="#0000ff"/>
<circle cx="82.83" cy="314.06" r="1.35" fill="#0000ff"/>
<circle cx="86.64" cy="314.48" r="1.35" fill="#0000ff"/>
<circle cx="90.45" cy="314.95" r="1.35" fill="#0000ff"/>
<circle cx="94.26" cy="314.95" r="1.35" fill="#0000ff"/>
<circle cx="98.06" cy="314.95" r="1.35" fill="#0000ff"/>
<circle cx="101.87" cy="315.96" r="1.35" fill="#0000ff"/>
<circle cx="105.68" cy="316.02" r="1.35" fill="#0000ff"/>
<circle cx="109.49" cy="316.07" r="1.35" fill="#0000ff"/>
<circle cx="113.30" cy="316.12" r="1.35" fill="#0000ff"/>
<circle cx="117.10" cy="316.17" r="1.35" fill="#0000ff"/>
<circle cx="120.91" cy="316.23" r="1.35" fill="#0000ff"/>
<circle cx="124.72" cy="316.28" r="1.35" fill="#0000ff"/>
<circle cx="128.53" cy="316.33" r="1.35" fill="#0000ff"/>
<circle cx="132.34" cy="316.38" r="1.35" fill="#0000ff"/>
<circle cx="136.14" cy="316.44" r="1.35" fill="#0000ff"/>
<circle cx="139.95" cy="316.64" r="1.35" fill="#0000ff"/>
<circle cx="143.76" cy="316.83" r="1.35" fill="#0000ff"/>
<circle cx="147.57" cy="317.03" r="1.35" fill="#0000ff"/>
<circle cx="151.38" cy="317.20" r="1.35" fill="#0000ff"/>
<circle cx="155.18" cy="317.37" r="1.35" fill="#0000ff"/>
<circle cx="158.99" cy="317.54" r="1.35" fill="#0000ff"/>
<circle cx="162.80" cy="317.71" r="1.35" fill="#0000ff"/>
<circle cx="166.61" cy="317.88" r="1.35" fill="#0000ff"/>
<circle cx="170.42" cy="318.05" r="1.35" fill="#0000ff"/>
<circle cx="174.22" cy="318.22" r="1.35" fill="#0000ff"/>
<circle cx="178.03" cy="318.17" r="1.35" fill="#0000ff"/>
<circle cx="181.84" cy="318.12" r="1.35" fill="#0000ff"/>
<circle cx="185.65" cy="318.07" r="1.35" fill="#0000ff"/>
<circle cx="189.46" cy="318.02" r="1.35" fill="#0000ff"/>
<circle cx="193.26" cy="317.97" r="1.35" fill="#0000ff"/>
<circle cx="197.07" cy="317.92" r="1.35" fill="#0000ff"/>
<circle cx="200.88" cy="316.32" r="1.35" fill="#0000ff"/>
<circle cx="204.69" cy="316.32" r="1.35" fill="#0000ff"/>
<circle cx="208.50" cy="319.41" r="1.35" fill="#0000ff"/>
<path d="M20.00 320.00 v-2.80 M23.81 320.00 v-1.70 M27.62 320.00 v-1.70 M31.42 320.00 v-1.70 M35.23 320.00 v-1.70 M39.04 320.00 v-2.80 M42.85 320.00 v-1.70 M46.66 320.00 v-1.70 M50.46 320.00 v-1.70 M54.27 320.00 v-1.70 M58.08 320.00 v-2.80 M61.89 320.00 v-1.70 M65.70 320.00 v-1.70 M69.50 320.00 v-1.70 M73.31 320.00 v-1.70 M77.12 320.00 v-2.80 M80.93 320.00 v-1.70 M84.74 320.00 v-1.70 M88.54 320.00 v-1.70 M92.35 320.00 v-1.70 M96.16 320.00 v-2.80 M99.97 320.00 v-1.70 M103.78 320.00 v-1.70 M107.58 320.00 v-1.70 M111.39 320.00 v-1.70 M115.20 320.00 v-2.80 M119.01 320.00 v-1.70 M122.82 320.00 v-1.70 M126.62 320.00 v-1.70 M130.43 320.00 v-1.70 M134.24 320.00 v-2.80 M138.05 320.00 v-1.70 M141.86 320.00 v-1.70 M145.66 320.00 v-1.70 M149.47 320.00 v-1.70 M153.28 320.00 v-2.80 M157.09 320.00 v-1.70 M160.90 320.00 v-1.70 M164.70 320.00 v-1.70 M168.51 320.00 v-1.70 M172.32 320.00 v-2.80 M176.13 320.00 v-1.70 M179.94 320.00 v-1.70 M183.74 320.00 v-1.70 M187.55 320.00 v-1.70 M191.36 320.00 v-2.80 M195.17 320.00 v-1.70 M198.98 320.00 v-1.70 M202.78 320.00 v-1.70 M206.59 320.00 v-1.70 M210.40 320.00 v-2.80 M20.00 320.00 h2.80 M20.00 317.06 h1.70 M20.00 314.12 h1.70 M20.00 311.18 h1.70 M20.00 308.24 h2.80 M20.00 305.30 h1.70 M20.00 302.36 h1.70 M20.00 299.43 h1.70 M20.00 296.49 h2.80 M20.00 293.55 h1.70 M20.00 290.61 h1.70 M20.00 287.67 h1.70 M20.00 284.73 h2.80 M20.00 281.79 h1.70 M20.00 278.85 h1.70 M20.00 275.91 h1.70 M20.00 272.97 h2.80 M20.00 270.03 h1.70 M20.00 267.09 h1.70 M20.00 264.16 h1.70 M20.00 261.22 h2.80 M20.00 258.28 h1.70 M20.00 255.34 h1.70 M20.00 252.40 h1.70 M20.00 249.46 h2.80 M20.00 246.52 h1.70 M20.00 243.58 h1.70 M20.00 240.64 h1.70 M20.00 237.70 h2.80 M20.00 234.76 h1.70 M20.00 231.82 h1.70 M20.00 228.89 h1.70 M20.00 225.95 h2.80 M20.00 223.01 h1.70 M20.00 220.07 h1.70 M20.00 217.13 h1.70 M20.00 214.19 h2.80 M20.00 211.25 h1.70 M20.00 208.31 h1.70 M20.00 205.37 h1.70 M20.00 202.43 h2.80 M20.00 199.49 h1.70 M20.00 196.55 h1.70 M20.00 193.61 h1.70 M20.00 190.68 h2.80" stroke="#111" stroke-width="0.85" fill="none"/>
<rect x="20.00" y="189.50" width="190.40" height="130.50" fill="none" stroke="#777" stroke-width="0.80"/>
<text x="20.00" y="328.10" text-anchor="middle" font-size="7.60">0</text>
<text x="39.04" y="328.10" text-anchor="middle" font-size="7.60">0.1</text>
<text x="58.08" y="328.10" text-anchor="middle" font-size="7.60">0.2</text>
<text x="77.12" y="328.10" text-anchor="middle" font-size="7.60">0.3</text>
<text x="96.16" y="328.10" text-anchor="middle" font-size="7.60">0.4</text>
<text x="115.20" y="328.10" text-anchor="middle" font-size="7.60">0.5</text>
<text x="134.24" y="328.10" text-anchor="middle" font-size="7.60">0.6</text>
<text x="153.28" y="328.10" text-anchor="middle" font-size="7.60">0.7</text>
<text x="172.32" y="328.10" text-anchor="middle" font-size="7.60">0.8</text>
<text x="191.36" y="328.10" text-anchor="middle" font-size="7.60">0.9</text>
<text x="210.40" y="328.10" text-anchor="middle" font-size="7.60">1</text>
<text x="16.60" y="322.70" text-anchor="end" font-size="7.60">0</text>
<text x="16.60" y="310.94" text-anchor="end" font-size="7.60">2</text>
<text x="16.60" y="299.19" text-anchor="end" font-size="7.60">4</text>
<text x="16.60" y="287.43" text-anchor="end" font-size="7.60">6</text>
<text x="16.60" y="275.67" text-anchor="end" font-size="7.60">8</text>
<text x="16.60" y="263.92" text-anchor="end" font-size="7.60">10</text>
<text x="16.60" y="252.16" text-anchor="end" font-size="7.60">12</text>
<text x="16.60" y="240.40" text-anchor="end" font-size="7.60">14</text>
<text x="16.60" y="228.65" text-anchor="end" font-size="7.60">16</text>
<text x="16.60" y="216.89" text-anchor="end" font-size="7.60">18</text>
<text x="16.60" y="205.13" text-anchor="end" font-size="7.60">20</text>
<text x="16.60" y="193.38" text-anchor="end" font-size="7.60">22</text>
<path d="M493.60 320.00 L493.60 201.05 L497.40 201.05 L497.40 256.91 L501.20 256.91 L501.20 277.49 L505.00 277.49 L505.00 287.21 L508.80 287.21 L508.80 294.45 L512.60 294.45 L512.60 298.74 L516.40 298.74 L516.40 302.36 L520.20 302.36 L520.20 305.30 L524.00 305.30 L524.00 307.11 L527.80 307.11 L527.80 308.69 L531.60 308.69 L531.60 309.82 L535.40 309.82 L535.40 310.62 L539.20 310.62 L539.20 311.41 L543.00 311.41 L543.00 311.97 L546.80 311.97 L546.80 312.54 L550.60 312.54 L550.60 312.99 L554.40 312.99 L554.40 313.44 L558.20 313.44 L558.20 313.89 L562.00 313.89 L562.00 314.35 L565.80 314.35 L565.80 314.80 L569.60 314.80 L569.60 315.04 L573.40 315.04 L573.40 315.29 L577.20 315.29 L577.20 315.53 L581.00 315.53 L581.00 315.78 L584.80 315.78 L584.80 316.02 L588.60 316.02 L588.60 316.27 L592.40 316.27 L592.40 316.37 L596.20 316.37 L596.20 316.47 L600.00 316.47 L600.00 316.57 L603.80 316.57 L603.80 316.67 L607.60 316.67 L607.60 316.77 L611.40 316.77 L611.40 316.87 L615.20 316.87 L615.20 316.97 L619.00 316.97 L619.00 317.07 L622.80 317.07 L622.80 317.17 L626.60 317.17 L626.60 317.21 L630.40 317.21 L630.40 317.25 L634.20 317.25 L634.20 317.29 L638.00 317.29 L638.00 317.32 L641.80 317.32 L641.80 317.36 L645.60 317.36 L645.60 317.40 L649.40 317.40 L649.40 317.38 L653.20 317.38 L653.20 317.35 L657.00 317.35 L657.00 317.33 L660.80 317.33 L660.80 317.31 L664.60 317.31 L664.60 317.29 L668.40 317.29 L668.40 316.83 L672.20 316.83 L672.20 315.93 L676.00 315.93 L676.00 315.70 L679.80 315.70 L679.80 318.87 L683.60 318.87 L683.60 320.00" fill="url(#pb)" stroke="#5f8cc2" stroke-width="0.9"/>
<path d="M493.60 320.00 L493.60 318.87 L497.40 318.87 L497.40 317.74 L501.20 317.74 L501.20 317.51 L505.00 317.51 L505.00 317.49 L508.80 317.49 L508.80 317.47 L512.60 317.47 L512.60 317.46 L516.40 317.46 L516.40 317.44 L520.20 317.44 L520.20 317.42 L524.00 317.42 L524.00 317.40 L527.80 317.40 L527.80 317.38 L531.60 317.38 L531.60 317.36 L535.40 317.36 L535.40 317.34 L539.20 317.34 L539.20 317.32 L543.00 317.32 L543.00 317.31 L546.80 317.31 L546.80 317.29 L550.60 317.29 L550.60 317.23 L554.40 317.23 L554.40 317.18 L558.20 317.18 L558.20 317.13 L562.00 317.13 L562.00 317.08 L565.80 317.08 L565.80 317.03 L569.60 317.03 L569.60 316.98 L573.40 316.98 L573.40 316.93 L577.20 316.93 L577.20 316.88 L581.00 316.88 L581.00 316.82 L584.80 316.82 L584.80 316.77 L588.60 316.77 L588.60 316.72 L592.40 316.72 L592.40 316.57 L596.20 316.57 L596.20 316.42 L600.00 316.42 L600.00 316.27 L603.80 316.27 L603.80 316.04 L607.60 316.04 L607.60 315.82 L611.40 315.82 L611.40 315.53 L615.20 315.53 L615.20 315.25 L619.00 315.25 L619.00 314.97 L622.80 314.97 L622.80 314.69 L626.60 314.69 L626.60 314.32 L630.40 314.32 L630.40 313.95 L634.20 313.95 L634.20 313.58 L638.00 313.58 L638.00 313.22 L641.80 313.22 L641.80 312.54 L645.60 312.54 L645.60 311.86 L649.40 311.86 L649.40 310.73 L653.20 310.73 L653.20 309.60 L657.00 309.60 L657.00 307.79 L660.80 307.79 L660.80 301.68 L664.60 301.68 L664.60 298.29 L668.40 298.29 L668.40 288.11 L672.20 288.11 L672.20 249.90 L676.00 249.90 L676.00 202.18 L679.80 202.18 L679.80 266.86 L683.60 266.86 L683.60 320.00" fill="url(#pr)" stroke="#c8604a" stroke-width="0.9"/>
<circle cx="495.50" cy="318.64" r="1.35" fill="#ff0000"/>
<circle cx="499.30" cy="317.40" r="1.35" fill="#ff0000"/>
<circle cx="503.10" cy="317.38" r="1.35" fill="#ff0000"/>
<circle cx="506.90" cy="317.37" r="1.35" fill="#ff0000"/>
<circle cx="510.70" cy="317.35" r="1.35" fill="#ff0000"/>
<circle cx="514.50" cy="317.34" r="1.35" fill="#ff0000"/>
<circle cx="518.30" cy="317.32" r="1.35" fill="#ff0000"/>
<circle cx="522.10" cy="317.31" r="1.35" fill="#ff0000"/>
<circle cx="525.90" cy="317.29" r="1.35" fill="#ff0000"/>
<circle cx="529.70" cy="317.27" r="1.35" fill="#ff0000"/>
<circle cx="533.50" cy="317.26" r="1.35" fill="#ff0000"/>
<circle cx="537.30" cy="317.24" r="1.35" fill="#ff0000"/>
<circle cx="541.10" cy="317.23" r="1.35" fill="#ff0000"/>
<circle cx="544.90" cy="317.21" r="1.35" fill="#ff0000"/>
<circle cx="548.70" cy="317.20" r="1.35" fill="#ff0000"/>
<circle cx="552.50" cy="317.14" r="1.35" fill="#ff0000"/>
<circle cx="556.30" cy="317.09" r="1.35" fill="#ff0000"/>
<circle cx="560.10" cy="317.04" r="1.35" fill="#ff0000"/>
<circle cx="563.90" cy="316.98" r="1.35" fill="#ff0000"/>
<circle cx="567.70" cy="316.93" r="1.35" fill="#ff0000"/>
<circle cx="571.50" cy="316.88" r="1.35" fill="#ff0000"/>
<circle cx="575.30" cy="316.82" r="1.35" fill="#ff0000"/>
<circle cx="579.10" cy="316.77" r="1.35" fill="#ff0000"/>
<circle cx="582.90" cy="316.71" r="1.35" fill="#ff0000"/>
<circle cx="586.70" cy="316.66" r="1.35" fill="#ff0000"/>
<circle cx="590.50" cy="316.61" r="1.35" fill="#ff0000"/>
<circle cx="594.30" cy="316.43" r="1.35" fill="#ff0000"/>
<circle cx="598.10" cy="316.25" r="1.35" fill="#ff0000"/>
<circle cx="601.90" cy="316.07" r="1.35" fill="#ff0000"/>
<circle cx="605.70" cy="315.75" r="1.35" fill="#ff0000"/>
<circle cx="609.50" cy="315.61" r="1.35" fill="#ff0000"/>
<circle cx="613.30" cy="315.23" r="1.35" fill="#ff0000"/>
<circle cx="617.10" cy="314.96" r="1.35" fill="#ff0000"/>
<circle cx="620.90" cy="314.75" r="1.35" fill="#ff0000"/>
<circle cx="624.70" cy="314.44" r="1.35" fill="#ff0000"/>
<circle cx="628.50" cy="314.10" r="1.35" fill="#ff0000"/>
<circle cx="632.30" cy="313.89" r="1.35" fill="#ff0000"/>
<circle cx="636.10" cy="313.44" r="1.35" fill="#ff0000"/>
<circle cx="639.90" cy="312.76" r="1.35" fill="#ff0000"/>
<circle cx="643.70" cy="312.11" r="1.35" fill="#ff0000"/>
<circle cx="647.50" cy="311.18" r="1.35" fill="#ff0000"/>
<circle cx="651.30" cy="310.50" r="1.35" fill="#ff0000"/>
<circle cx="655.10" cy="309.03" r="1.35" fill="#ff0000"/>
<circle cx="658.90" cy="307.11" r="1.35" fill="#ff0000"/>
<circle cx="662.70" cy="304.17" r="1.35" fill="#ff0000"/>
<circle cx="666.50" cy="298.29" r="1.35" fill="#ff0000"/>
<circle cx="670.30" cy="286.98" r="1.35" fill="#ff0000"/>
<circle cx="674.10" cy="245.15" r="1.35" fill="#ff0000"/>
<circle cx="677.90" cy="205.80" r="1.35" fill="#ff0000"/>
<circle cx="681.70" cy="274.55" r="1.35" fill="#ff0000"/>
<circle cx="495.50" cy="210.55" r="1.35" fill="#0000ff"/>
<circle cx="499.30" cy="257.36" r="1.35" fill="#0000ff"/>
<circle cx="503.10" cy="277.94" r="1.35" fill="#0000ff"/>
<circle cx="506.90" cy="288.34" r="1.35" fill="#0000ff"/>
<circle cx="510.70" cy="295.12" r="1.35" fill="#0000ff"/>
<circle cx="514.50" cy="299.19" r="1.35" fill="#0000ff"/>
<circle cx="518.30" cy="303.49" r="1.35" fill="#0000ff"/>
<circle cx="522.10" cy="305.75" r="1.35" fill="#0000ff"/>
<circle cx="525.90" cy="307.79" r="1.35" fill="#0000ff"/>
<circle cx="529.70" cy="308.92" r="1.35" fill="#0000ff"/>
<circle cx="533.50" cy="310.05" r="1.35" fill="#0000ff"/>
<circle cx="537.30" cy="311.18" r="1.35" fill="#0000ff"/>
<circle cx="541.10" cy="311.86" r="1.35" fill="#0000ff"/>
<circle cx="544.90" cy="312.31" r="1.35" fill="#0000ff"/>
<circle cx="548.70" cy="312.54" r="1.35" fill="#0000ff"/>
<circle cx="552.50" cy="313.03" r="1.35" fill="#0000ff"/>
<circle cx="556.30" cy="313.53" r="1.35" fill="#0000ff"/>
<circle cx="560.10" cy="314.03" r="1.35" fill="#0000ff"/>
<circle cx="563.90" cy="314.53" r="1.35" fill="#0000ff"/>
<circle cx="567.70" cy="315.02" r="1.35" fill="#0000ff"/>
<circle cx="571.50" cy="315.25" r="1.35" fill="#0000ff"/>
<circle cx="575.30" cy="315.48" r="1.35" fill="#0000ff"/>
<circle cx="579.10" cy="315.70" r="1.35" fill="#0000ff"/>
<circle cx="582.90" cy="315.93" r="1.35" fill="#0000ff"/>
<circle cx="586.70" cy="316.16" r="1.35" fill="#0000ff"/>
<circle cx="590.50" cy="316.38" r="1.35" fill="#0000ff"/>
<circle cx="594.30" cy="316.47" r="1.35" fill="#0000ff"/>
<circle cx="598.10" cy="316.56" r="1.35" fill="#0000ff"/>
<circle cx="601.90" cy="316.65" r="1.35" fill="#0000ff"/>
<circle cx="605.70" cy="316.74" r="1.35" fill="#0000ff"/>
<circle cx="609.50" cy="316.83" r="1.35" fill="#0000ff"/>
<circle cx="613.30" cy="316.92" r="1.35" fill="#0000ff"/>
<circle cx="617.10" cy="317.01" r="1.35" fill="#0000ff"/>
<circle cx="620.90" cy="317.11" r="1.35" fill="#0000ff"/>
<circle cx="624.70" cy="317.20" r="1.35" fill="#0000ff"/>
<circle cx="628.50" cy="317.20" r="1.35" fill="#0000ff"/>
<circle cx="632.30" cy="317.21" r="1.35" fill="#0000ff"/>
<circle cx="636.10" cy="317.22" r="1.35" fill="#0000ff"/>
<circle cx="639.90" cy="317.23" r="1.35" fill="#0000ff"/>
<circle cx="643.70" cy="317.23" r="1.35" fill="#0000ff"/>
<circle cx="647.50" cy="317.24" r="1.35" fill="#0000ff"/>
<circle cx="651.30" cy="317.24" r="1.35" fill="#0000ff"/>
<circle cx="655.10" cy="317.24" r="1.35" fill="#0000ff"/>
<circle cx="658.90" cy="317.24" r="1.35" fill="#0000ff"/>
<circle cx="662.70" cy="317.24" r="1.35" fill="#0000ff"/>
<circle cx="666.50" cy="317.24" r="1.35" fill="#0000ff"/>
<circle cx="670.30" cy="316.95" r="1.35" fill="#0000ff"/>
<circle cx="674.10" cy="315.77" r="1.35" fill="#0000ff"/>
<circle cx="677.90" cy="315.36" r="1.35" fill="#0000ff"/>
<circle cx="681.70" cy="318.89" r="1.35" fill="#0000ff"/>
<path d="M493.60 320.00 v-2.80 M497.40 320.00 v-1.70 M501.20 320.00 v-1.70 M505.00 320.00 v-1.70 M508.80 320.00 v-1.70 M512.60 320.00 v-2.80 M516.40 320.00 v-1.70 M520.20 320.00 v-1.70 M524.00 320.00 v-1.70 M527.80 320.00 v-1.70 M531.60 320.00 v-2.80 M535.40 320.00 v-1.70 M539.20 320.00 v-1.70 M543.00 320.00 v-1.70 M546.80 320.00 v-1.70 M550.60 320.00 v-2.80 M554.40 320.00 v-1.70 M558.20 320.00 v-1.70 M562.00 320.00 v-1.70 M565.80 320.00 v-1.70 M569.60 320.00 v-2.80 M573.40 320.00 v-1.70 M577.20 320.00 v-1.70 M581.00 320.00 v-1.70 M584.80 320.00 v-1.70 M588.60 320.00 v-2.80 M592.40 320.00 v-1.70 M596.20 320.00 v-1.70 M600.00 320.00 v-1.70 M603.80 320.00 v-1.70 M607.60 320.00 v-2.80 M611.40 320.00 v-1.70 M615.20 320.00 v-1.70 M619.00 320.00 v-1.70 M622.80 320.00 v-1.70 M626.60 320.00 v-2.80 M630.40 320.00 v-1.70 M634.20 320.00 v-1.70 M638.00 320.00 v-1.70 M641.80 320.00 v-1.70 M645.60 320.00 v-2.80 M649.40 320.00 v-1.70 M653.20 320.00 v-1.70 M657.00 320.00 v-1.70 M660.80 320.00 v-1.70 M664.60 320.00 v-2.80 M668.40 320.00 v-1.70 M672.20 320.00 v-1.70 M676.00 320.00 v-1.70 M679.80 320.00 v-1.70 M683.60 320.00 v-2.80 M493.60 320.00 h2.80 M493.60 315.51 h1.70 M493.60 311.02 h1.70 M493.60 306.53 h1.70 M493.60 302.03 h1.70 M493.60 297.54 h2.80 M493.60 293.05 h1.70 M493.60 288.56 h1.70 M493.60 284.07 h1.70 M493.60 279.58 h1.70 M493.60 275.09 h2.80 M493.60 270.59 h1.70 M493.60 266.10 h1.70 M493.60 261.61 h1.70 M493.60 257.12 h1.70 M493.60 252.63 h2.80 M493.60 248.14 h1.70 M493.60 243.65 h1.70 M493.60 239.15 h1.70 M493.60 234.66 h1.70 M493.60 230.17 h2.80 M493.60 225.68 h1.70 M493.60 221.19 h1.70 M493.60 216.70 h1.70 M493.60 212.21 h1.70 M493.60 207.71 h2.80 M493.60 203.22 h1.70 M493.60 198.73 h1.70 M493.60 194.24 h1.70 M493.60 189.75 h1.70" stroke="#111" stroke-width="0.85" fill="none"/>
<rect x="493.60" y="189.30" width="190.00" height="130.70" fill="none" stroke="#777" stroke-width="0.80"/>
<text x="493.60" y="328.10" text-anchor="middle" font-size="7.60">0</text>
<text x="512.60" y="328.10" text-anchor="middle" font-size="7.60">0.1</text>
<text x="531.60" y="328.10" text-anchor="middle" font-size="7.60">0.2</text>
<text x="550.60" y="328.10" text-anchor="middle" font-size="7.60">0.3</text>
<text x="569.60" y="328.10" text-anchor="middle" font-size="7.60">0.4</text>
<text x="588.60" y="328.10" text-anchor="middle" font-size="7.60">0.5</text>
<text x="607.60" y="328.10" text-anchor="middle" font-size="7.60">0.6</text>
<text x="626.60" y="328.10" text-anchor="middle" font-size="7.60">0.7</text>
<text x="645.60" y="328.10" text-anchor="middle" font-size="7.60">0.8</text>
<text x="664.60" y="328.10" text-anchor="middle" font-size="7.60">0.9</text>
<text x="683.60" y="328.10" text-anchor="middle" font-size="7.60">1</text>
<text x="490.20" y="322.70" text-anchor="end" font-size="7.60">0</text>
<text x="490.20" y="300.24" text-anchor="end" font-size="7.60">10</text>
<text x="490.20" y="277.79" text-anchor="end" font-size="7.60">20</text>
<text x="490.20" y="255.33" text-anchor="end" font-size="7.60">30</text>
<text x="490.20" y="232.87" text-anchor="end" font-size="7.60">40</text>
<text x="490.20" y="210.41" text-anchor="end" font-size="7.60">50</text>
<line x1="257.00" y1="78.31" x2="447.20" y2="78.31" stroke="#000" stroke-width="0.7" stroke-dasharray="1,1"/>
<line x1="258.90" y1="64.25" x2="258.90" y2="66.37" stroke="#0000ff" stroke-width="0.8"/>
<circle cx="258.90" cy="65.31" r="1.15" fill="#0000ff"/>
<line x1="262.71" y1="80.79" x2="262.71" y2="82.92" stroke="#0000ff" stroke-width="0.8"/>
<circle cx="262.71" cy="81.85" r="1.15" fill="#0000ff"/>
<line x1="266.51" y1="83.92" x2="266.51" y2="86.05" stroke="#0000ff" stroke-width="0.8"/>
<circle cx="266.51" cy="84.99" r="1.15" fill="#0000ff"/>
<line x1="270.31" y1="84.75" x2="270.31" y2="86.88" stroke="#0000ff" stroke-width="0.8"/>
<circle cx="270.31" cy="85.81" r="1.15" fill="#0000ff"/>
<line x1="274.12" y1="84.75" x2="274.12" y2="86.88" stroke="#0000ff" stroke-width="0.8"/>
<circle cx="274.12" cy="85.81" r="1.15" fill="#0000ff"/>
<line x1="277.92" y1="87.29" x2="277.92" y2="89.42" stroke="#0000ff" stroke-width="0.8"/>
<circle cx="277.92" cy="88.35" r="1.15" fill="#0000ff"/>
<line x1="281.73" y1="86.66" x2="281.73" y2="88.87" stroke="#0000ff" stroke-width="0.8"/>
<circle cx="281.73" cy="87.76" r="1.15" fill="#0000ff"/>
<line x1="285.53" y1="87.15" x2="285.53" y2="89.55" stroke="#0000ff" stroke-width="0.8"/>
<circle cx="285.53" cy="88.35" r="1.15" fill="#0000ff"/>
<line x1="289.33" y1="87.08" x2="289.33" y2="89.63" stroke="#0000ff" stroke-width="0.8"/>
<circle cx="289.33" cy="88.35" r="1.15" fill="#0000ff"/>
<line x1="293.14" y1="85.63" x2="293.14" y2="88.37" stroke="#0000ff" stroke-width="0.8"/>
<circle cx="293.14" cy="87.00" r="1.15" fill="#0000ff"/>
<line x1="296.94" y1="84.35" x2="296.94" y2="87.28" stroke="#0000ff" stroke-width="0.8"/>
<circle cx="296.94" cy="85.81" r="1.15" fill="#0000ff"/>
<line x1="300.75" y1="82.37" x2="300.75" y2="85.47" stroke="#0000ff" stroke-width="0.8"/>
<circle cx="300.75" cy="83.92" r="1.15" fill="#0000ff"/>
<line x1="304.55" y1="83.16" x2="304.55" y2="86.45" stroke="#0000ff" stroke-width="0.8"/>
<circle cx="304.55" cy="84.81" r="1.15" fill="#0000ff"/>
<line x1="308.35" y1="82.52" x2="308.35" y2="85.92" stroke="#0000ff" stroke-width="0.8"/>
<circle cx="308.35" cy="84.22" r="1.15" fill="#0000ff"/>
<line x1="312.16" y1="81.32" x2="312.16" y2="84.75" stroke="#0000ff" stroke-width="0.8"/>
<circle cx="312.16" cy="83.04" r="1.15" fill="#0000ff"/>
<line x1="315.96" y1="81.25" x2="315.96" y2="84.82" stroke="#0000ff" stroke-width="0.8"/>
<circle cx="315.96" cy="83.04" r="1.15" fill="#0000ff"/>
<line x1="319.77" y1="81.15" x2="319.77" y2="84.92" stroke="#0000ff" stroke-width="0.8"/>
<circle cx="319.77" cy="83.04" r="1.15" fill="#0000ff"/>
<line x1="323.57" y1="80.50" x2="323.57" y2="84.39" stroke="#0000ff" stroke-width="0.8"/>
<circle cx="323.57" cy="82.45" r="1.15" fill="#0000ff"/>
<line x1="327.37" y1="83.76" x2="327.37" y2="87.87" stroke="#0000ff" stroke-width="0.8"/>
<circle cx="327.37" cy="85.81" r="1.15" fill="#0000ff"/>
<line x1="331.18" y1="82.90" x2="331.18" y2="87.08" stroke="#0000ff" stroke-width="0.8"/>
<circle cx="331.18" cy="84.99" r="1.15" fill="#0000ff"/>
<line x1="334.98" y1="77.15" x2="334.98" y2="81.48" stroke="#0000ff" stroke-width="0.8"/>
<circle cx="334.98" cy="79.31" r="1.15" fill="#0000ff"/>
<line x1="338.79" y1="79.58" x2="338.79" y2="84.12" stroke="#0000ff" stroke-width="0.8"/>
<circle cx="338.79" cy="81.85" r="1.15" fill="#0000ff"/>
<line x1="342.59" y1="79.58" x2="342.59" y2="84.12" stroke="#0000ff" stroke-width="0.8"/>
<circle cx="342.59" cy="81.85" r="1.15" fill="#0000ff"/>
<line x1="346.39" y1="74.58" x2="346.39" y2="79.20" stroke="#0000ff" stroke-width="0.8"/>
<circle cx="346.39" cy="76.89" r="1.15" fill="#0000ff"/>
<line x1="350.20" y1="73.57" x2="350.20" y2="78.32" stroke="#0000ff" stroke-width="0.8"/>
<circle cx="350.20" cy="75.95" r="1.15" fill="#0000ff"/>
<line x1="354.00" y1="74.10" x2="354.00" y2="78.97" stroke="#0000ff" stroke-width="0.8"/>
<circle cx="354.00" cy="76.54" r="1.15" fill="#0000ff"/>
<line x1="357.81" y1="81.73" x2="357.81" y2="86.71" stroke="#0000ff" stroke-width="0.8"/>
<circle cx="357.81" cy="84.22" r="1.15" fill="#0000ff"/>
<line x1="361.61" y1="75.82" x2="361.61" y2="80.80" stroke="#0000ff" stroke-width="0.8"/>
<circle cx="361.61" cy="78.31" r="1.15" fill="#0000ff"/>
<line x1="365.41" y1="72.77" x2="365.41" y2="77.94" stroke="#0000ff" stroke-width="0.8"/>
<circle cx="365.41" cy="75.35" r="1.15" fill="#0000ff"/>
<line x1="369.22" y1="75.07" x2="369.22" y2="80.37" stroke="#0000ff" stroke-width="0.8"/>
<circle cx="369.22" cy="77.72" r="1.15" fill="#0000ff"/>
<line x1="373.02" y1="75.65" x2="373.02" y2="80.97" stroke="#0000ff" stroke-width="0.8"/>
<circle cx="373.02" cy="78.31" r="1.15" fill="#0000ff"/>
<line x1="376.83" y1="72.09" x2="376.83" y2="77.43" stroke="#0000ff" stroke-width="0.8"/>
<circle cx="376.83" cy="74.76" r="1.15" fill="#0000ff"/>
<line x1="380.63" y1="72.66" x2="380.63" y2="78.05" stroke="#0000ff" stroke-width="0.8"/>
<circle cx="380.63" cy="75.35" r="1.15" fill="#0000ff"/>
<line x1="384.43" y1="74.12" x2="384.43" y2="79.55" stroke="#0000ff" stroke-width="0.8"/>
<circle cx="384.43" cy="76.83" r="1.15" fill="#0000ff"/>
<line x1="388.24" y1="76.44" x2="388.24" y2="81.95" stroke="#0000ff" stroke-width="0.8"/>
<circle cx="388.24" cy="79.20" r="1.15" fill="#0000ff"/>
<line x1="392.04" y1="73.51" x2="392.04" y2="79.09" stroke="#0000ff" stroke-width="0.8"/>
<circle cx="392.04" cy="76.30" r="1.15" fill="#0000ff"/>
<line x1="395.85" y1="78.57" x2="395.85" y2="84.67" stroke="#0000ff" stroke-width="0.8"/>
<circle cx="395.85" cy="81.62" r="1.15" fill="#0000ff"/>
<line x1="399.65" y1="76.12" x2="399.65" y2="82.27" stroke="#0000ff" stroke-width="0.8"/>
<circle cx="399.65" cy="79.20" r="1.15" fill="#0000ff"/>
<line x1="403.45" y1="76.39" x2="403.45" y2="82.59" stroke="#0000ff" stroke-width="0.8"/>
<circle cx="403.45" cy="79.49" r="1.15" fill="#0000ff"/>
<line x1="407.26" y1="70.45" x2="407.26" y2="76.71" stroke="#0000ff" stroke-width="0.8"/>
<circle cx="407.26" cy="73.58" r="1.15" fill="#0000ff"/>
<line x1="411.06" y1="74.56" x2="411.06" y2="80.88" stroke="#0000ff" stroke-width="0.8"/>
<circle cx="411.06" cy="77.72" r="1.15" fill="#0000ff"/>
<line x1="414.87" y1="78.07" x2="414.87" y2="84.45" stroke="#0000ff" stroke-width="0.8"/>
<circle cx="414.87" cy="81.26" r="1.15" fill="#0000ff"/>
<line x1="418.67" y1="72.80" x2="418.67" y2="79.09" stroke="#0000ff" stroke-width="0.8"/>
<circle cx="418.67" cy="75.95" r="1.15" fill="#0000ff"/>
<line x1="422.47" y1="68.12" x2="422.47" y2="74.31" stroke="#0000ff" stroke-width="0.8"/>
<circle cx="422.47" cy="71.22" r="1.15" fill="#0000ff"/>
<line x1="426.28" y1="66.40" x2="426.28" y2="72.49" stroke="#0000ff" stroke-width="0.8"/>
<circle cx="426.28" cy="69.45" r="1.15" fill="#0000ff"/>
<line x1="430.08" y1="64.91" x2="430.08" y2="70.44" stroke="#0000ff" stroke-width="0.8"/>
<circle cx="430.08" cy="67.67" r="1.15" fill="#0000ff"/>
<line x1="433.89" y1="64.12" x2="433.89" y2="69.33" stroke="#0000ff" stroke-width="0.8"/>
<circle cx="433.89" cy="66.73" r="1.15" fill="#0000ff"/>
<line x1="437.69" y1="70.25" x2="437.69" y2="75.02" stroke="#0000ff" stroke-width="0.8"/>
<circle cx="437.69" cy="72.64" r="1.15" fill="#0000ff"/>
<line x1="441.49" y1="71.55" x2="441.49" y2="79.51" stroke="#0000ff" stroke-width="0.8"/>
<circle cx="441.49" cy="75.53" r="1.15" fill="#0000ff"/>
<line x1="445.30" y1="7.40" x2="445.30" y2="48.17" stroke="#0000ff" stroke-width="0.8"/>
<circle cx="445.30" cy="9.76" r="1.15" fill="#0000ff"/>
<line x1="258.90" y1="80.08" x2="258.90" y2="93.08" stroke="#ff0000" stroke-width="0.8"/>
<circle cx="258.90" cy="86.58" r="1.15" fill="#ff0000"/>
<line x1="262.71" y1="85.35" x2="262.71" y2="92.90" stroke="#ff0000" stroke-width="0.8"/>
<circle cx="262.71" cy="89.12" r="1.15" fill="#ff0000"/>
<line x1="266.51" y1="90.72" x2="266.51" y2="97.10" stroke="#ff0000" stroke-width="0.8"/>
<circle cx="266.51" cy="93.91" r="1.15" fill="#ff0000"/>
<line x1="270.31" y1="90.16" x2="270.31" y2="96.01" stroke="#ff0000" stroke-width="0.8"/>
<circle cx="270.31" cy="93.08" r="1.15" fill="#ff0000"/>
<line x1="274.12" y1="87.04" x2="274.12" y2="92.75" stroke="#ff0000" stroke-width="0.8"/>
<circle cx="274.12" cy="89.89" r="1.15" fill="#ff0000"/>
<line x1="277.92" y1="95.73" x2="277.92" y2="101.31" stroke="#ff0000" stroke-width="0.8"/>
<circle cx="277.92" cy="98.52" r="1.15" fill="#ff0000"/>
<line x1="281.73" y1="88.24" x2="281.73" y2="93.79" stroke="#ff0000" stroke-width="0.8"/>
<circle cx="281.73" cy="91.01" r="1.15" fill="#ff0000"/>
<line x1="285.53" y1="90.91" x2="285.53" y2="96.43" stroke="#ff0000" stroke-width="0.8"/>
<circle cx="285.53" cy="93.67" r="1.15" fill="#ff0000"/>
<line x1="289.33" y1="88.74" x2="289.33" y2="94.23" stroke="#ff0000" stroke-width="0.8"/>
<circle cx="289.33" cy="91.49" r="1.15" fill="#ff0000"/>
<line x1="293.14" y1="90.35" x2="293.14" y2="95.81" stroke="#ff0000" stroke-width="0.8"/>
<circle cx="293.14" cy="93.08" r="1.15" fill="#ff0000"/>
<line x1="296.94" y1="86.70" x2="296.94" y2="92.13" stroke="#ff0000" stroke-width="0.8"/>
<circle cx="296.94" cy="89.42" r="1.15" fill="#ff0000"/>
<line x1="300.75" y1="82.11" x2="300.75" y2="87.51" stroke="#ff0000" stroke-width="0.8"/>
<circle cx="300.75" cy="84.81" r="1.15" fill="#ff0000"/>
<line x1="304.55" y1="80.93" x2="304.55" y2="86.32" stroke="#ff0000" stroke-width="0.8"/>
<circle cx="304.55" cy="83.63" r="1.15" fill="#ff0000"/>
<line x1="308.35" y1="82.31" x2="308.35" y2="87.67" stroke="#ff0000" stroke-width="0.8"/>
<circle cx="308.35" cy="84.99" r="1.15" fill="#ff0000"/>
<line x1="312.16" y1="86.45" x2="312.16" y2="91.79" stroke="#ff0000" stroke-width="0.8"/>
<circle cx="312.16" cy="89.12" r="1.15" fill="#ff0000"/>
<line x1="315.96" y1="83.15" x2="315.96" y2="88.48" stroke="#ff0000" stroke-width="0.8"/>
<circle cx="315.96" cy="85.81" r="1.15" fill="#ff0000"/>
<line x1="319.77" y1="83.15" x2="319.77" y2="88.48" stroke="#ff0000" stroke-width="0.8"/>
<circle cx="319.77" cy="85.81" r="1.15" fill="#ff0000"/>
<line x1="323.57" y1="75.65" x2="323.57" y2="80.97" stroke="#ff0000" stroke-width="0.8"/>
<circle cx="323.57" cy="78.31" r="1.15" fill="#ff0000"/>
<line x1="327.37" y1="78.19" x2="327.37" y2="83.51" stroke="#ff0000" stroke-width="0.8"/>
<circle cx="327.37" cy="80.85" r="1.15" fill="#ff0000"/>
<line x1="331.18" y1="83.93" x2="331.18" y2="89.23" stroke="#ff0000" stroke-width="0.8"/>
<circle cx="331.18" cy="86.58" r="1.15" fill="#ff0000"/>
<line x1="334.98" y1="80.98" x2="334.98" y2="86.28" stroke="#ff0000" stroke-width="0.8"/>
<circle cx="334.98" cy="83.63" r="1.15" fill="#ff0000"/>
<line x1="338.79" y1="74.35" x2="338.79" y2="79.44" stroke="#ff0000" stroke-width="0.8"/>
<circle cx="338.79" cy="76.89" r="1.15" fill="#ff0000"/>
<line x1="342.59" y1="74.42" x2="342.59" y2="79.36" stroke="#ff0000" stroke-width="0.8"/>
<circle cx="342.59" cy="76.89" r="1.15" fill="#ff0000"/>
<line x1="346.39" y1="81.22" x2="346.39" y2="86.03" stroke="#ff0000" stroke-width="0.8"/>
<circle cx="346.39" cy="83.63" r="1.15" fill="#ff0000"/>
<line x1="350.20" y1="73.01" x2="350.20" y2="77.70" stroke="#ff0000" stroke-width="0.8"/>
<circle cx="350.20" cy="75.35" r="1.15" fill="#ff0000"/>
<line x1="354.00" y1="75.05" x2="354.00" y2="79.68" stroke="#ff0000" stroke-width="0.8"/>
<circle cx="354.00" cy="77.36" r="1.15" fill="#ff0000"/>
<line x1="357.81" y1="74.62" x2="357.81" y2="79.16" stroke="#ff0000" stroke-width="0.8"/>
<circle cx="357.81" cy="76.89" r="1.15" fill="#ff0000"/>
<line x1="361.61" y1="78.63" x2="361.61" y2="83.07" stroke="#ff0000" stroke-width="0.8"/>
<circle cx="361.61" cy="80.85" r="1.15" fill="#ff0000"/>
<line x1="365.41" y1="74.36" x2="365.41" y2="78.72" stroke="#ff0000" stroke-width="0.8"/>
<circle cx="365.41" cy="76.54" r="1.15" fill="#ff0000"/>
<line x1="369.22" y1="73.82" x2="369.22" y2="78.07" stroke="#ff0000" stroke-width="0.8"/>
<circle cx="369.22" cy="75.95" r="1.15" fill="#ff0000"/>
<line x1="373.02" y1="73.86" x2="373.02" y2="78.03" stroke="#ff0000" stroke-width="0.8"/>
<circle cx="373.02" cy="75.95" r="1.15" fill="#ff0000"/>
<line x1="376.83" y1="70.92" x2="376.83" y2="75.06" stroke="#ff0000" stroke-width="0.8"/>
<circle cx="376.83" cy="72.99" r="1.15" fill="#ff0000"/>
<line x1="380.63" y1="72.14" x2="380.63" y2="76.20" stroke="#ff0000" stroke-width="0.8"/>
<circle cx="380.63" cy="74.17" r="1.15" fill="#ff0000"/>
<line x1="384.43" y1="71.68" x2="384.43" y2="75.49" stroke="#ff0000" stroke-width="0.8"/>
<circle cx="384.43" cy="73.58" r="1.15" fill="#ff0000"/>
<line x1="388.24" y1="70.79" x2="388.24" y2="74.48" stroke="#ff0000" stroke-width="0.8"/>
<circle cx="388.24" cy="72.64" r="1.15" fill="#ff0000"/>
<line x1="392.04" y1="68.25" x2="392.04" y2="71.82" stroke="#ff0000" stroke-width="0.8"/>
<circle cx="392.04" cy="70.04" r="1.15" fill="#ff0000"/>
<line x1="395.85" y1="65.37" x2="395.85" y2="68.79" stroke="#ff0000" stroke-width="0.8"/>
<circle cx="395.85" cy="67.08" r="1.15" fill="#ff0000"/>
<line x1="399.65" y1="72.48" x2="399.65" y2="75.86" stroke="#ff0000" stroke-width="0.8"/>
<circle cx="399.65" cy="74.17" r="1.15" fill="#ff0000"/>
<line x1="403.45" y1="70.20" x2="403.45" y2="73.41" stroke="#ff0000" stroke-width="0.8"/>
<circle cx="403.45" cy="71.81" r="1.15" fill="#ff0000"/>
<line x1="407.26" y1="70.27" x2="407.26" y2="73.35" stroke="#ff0000" stroke-width="0.8"/>
<circle cx="407.26" cy="71.81" r="1.15" fill="#ff0000"/>
<line x1="411.06" y1="68.91" x2="411.06" y2="71.75" stroke="#ff0000" stroke-width="0.8"/>
<circle cx="411.06" cy="70.33" r="1.15" fill="#ff0000"/>
<line x1="414.87" y1="68.70" x2="414.87" y2="71.37" stroke="#ff0000" stroke-width="0.8"/>
<circle cx="414.87" cy="70.04" r="1.15" fill="#ff0000"/>
<line x1="418.67" y1="68.19" x2="418.67" y2="70.70" stroke="#ff0000" stroke-width="0.8"/>
<circle cx="418.67" cy="69.45" r="1.15" fill="#ff0000"/>
<line x1="422.47" y1="66.53" x2="422.47" y2="68.81" stroke="#ff0000" stroke-width="0.8"/>
<circle cx="422.47" cy="67.67" r="1.15" fill="#ff0000"/>
<line x1="426.28" y1="66.61" x2="426.28" y2="68.74" stroke="#ff0000" stroke-width="0.8"/>
<circle cx="426.28" cy="67.67" r="1.15" fill="#ff0000"/>
<line x1="430.08" y1="60.70" x2="430.08" y2="62.83" stroke="#ff0000" stroke-width="0.8"/>
<circle cx="430.08" cy="61.76" r="1.15" fill="#ff0000"/>
<line x1="433.89" y1="63.06" x2="433.89" y2="65.19" stroke="#ff0000" stroke-width="0.8"/>
<circle cx="433.89" cy="64.13" r="1.15" fill="#ff0000"/>
<line x1="437.69" y1="68.09" x2="437.69" y2="70.21" stroke="#ff0000" stroke-width="0.8"/>
<circle cx="437.69" cy="69.15" r="1.15" fill="#ff0000"/>
<line x1="441.49" y1="77.84" x2="441.49" y2="79.96" stroke="#ff0000" stroke-width="0.8"/>
<circle cx="441.49" cy="78.90" r="1.15" fill="#ff0000"/>
<path d="M257.00 137.40 v-2.80 M260.80 137.40 v-1.70 M264.61 137.40 v-1.70 M268.41 137.40 v-1.70 M272.22 137.40 v-1.70 M276.02 137.40 v-2.80 M279.82 137.40 v-1.70 M283.63 137.40 v-1.70 M287.43 137.40 v-1.70 M291.24 137.40 v-1.70 M295.04 137.40 v-2.80 M298.84 137.40 v-1.70 M302.65 137.40 v-1.70 M306.45 137.40 v-1.70 M310.26 137.40 v-1.70 M314.06 137.40 v-2.80 M317.86 137.40 v-1.70 M321.67 137.40 v-1.70 M325.47 137.40 v-1.70 M329.28 137.40 v-1.70 M333.08 137.40 v-2.80 M336.88 137.40 v-1.70 M340.69 137.40 v-1.70 M344.49 137.40 v-1.70 M348.30 137.40 v-1.70 M352.10 137.40 v-2.80 M355.90 137.40 v-1.70 M359.71 137.40 v-1.70 M363.51 137.40 v-1.70 M367.32 137.40 v-1.70 M371.12 137.40 v-2.80 M374.92 137.40 v-1.70 M378.73 137.40 v-1.70 M382.53 137.40 v-1.70 M386.34 137.40 v-1.70 M390.14 137.40 v-2.80 M393.94 137.40 v-1.70 M397.75 137.40 v-1.70 M401.55 137.40 v-1.70 M405.36 137.40 v-1.70 M409.16 137.40 v-2.80 M412.96 137.40 v-1.70 M416.77 137.40 v-1.70 M420.57 137.40 v-1.70 M424.38 137.40 v-1.70 M428.18 137.40 v-2.80 M431.98 137.40 v-1.70 M435.79 137.40 v-1.70 M439.59 137.40 v-1.70 M443.40 137.40 v-1.70 M447.20 137.40 v-2.80 M257.00 137.40 h2.80 M257.00 134.45 h1.70 M257.00 131.49 h1.70 M257.00 128.54 h1.70 M257.00 125.58 h2.80 M257.00 122.63 h1.70 M257.00 119.67 h1.70 M257.00 116.72 h1.70 M257.00 113.76 h2.80 M257.00 110.81 h1.70 M257.00 107.85 h1.70 M257.00 104.90 h1.70 M257.00 101.95 h2.80 M257.00 98.99 h1.70 M257.00 96.04 h1.70 M257.00 93.08 h1.70 M257.00 90.13 h2.80 M257.00 87.17 h1.70 M257.00 84.22 h1.70 M257.00 81.26 h1.70 M257.00 78.31 h2.80 M257.00 75.35 h1.70 M257.00 72.40 h1.70 M257.00 69.45 h1.70 M257.00 66.49 h2.80 M257.00 63.54 h1.70 M257.00 60.58 h1.70 M257.00 57.63 h1.70 M257.00 54.67 h2.80 M257.00 51.72 h1.70 M257.00 48.76 h1.70 M257.00 45.81 h1.70 M257.00 42.85 h2.80 M257.00 39.90 h1.70 M257.00 36.95 h1.70 M257.00 33.99 h1.70 M257.00 31.04 h2.80 M257.00 28.08 h1.70 M257.00 25.13 h1.70 M257.00 22.17 h1.70 M257.00 19.22 h2.80 M257.00 16.26 h1.70 M257.00 13.31 h1.70 M257.00 10.35 h1.70 M257.00 7.40 h2.80" stroke="#111" stroke-width="0.85" fill="none"/>
<rect x="257.00" y="7.40" width="190.20" height="130.00" fill="none" stroke="#777" stroke-width="0.80"/>
<text x="257.00" y="145.50" text-anchor="middle" font-size="7.60">0</text>
<text x="276.02" y="145.50" text-anchor="middle" font-size="7.60">0.1</text>
<text x="295.04" y="145.50" text-anchor="middle" font-size="7.60">0.2</text>
<text x="314.06" y="145.50" text-anchor="middle" font-size="7.60">0.3</text>
<text x="333.08" y="145.50" text-anchor="middle" font-size="7.60">0.4</text>
<text x="352.10" y="145.50" text-anchor="middle" font-size="7.60">0.5</text>
<text x="371.12" y="145.50" text-anchor="middle" font-size="7.60">0.6</text>
<text x="390.14" y="145.50" text-anchor="middle" font-size="7.60">0.7</text>
<text x="409.16" y="145.50" text-anchor="middle" font-size="7.60">0.8</text>
<text x="428.18" y="145.50" text-anchor="middle" font-size="7.60">0.9</text>
<text x="447.20" y="145.50" text-anchor="middle" font-size="7.60">1</text>
<text x="253.60" y="140.10" text-anchor="end" font-size="7.60">0</text>
<text x="253.60" y="128.28" text-anchor="end" font-size="7.60">0.2</text>
<text x="253.60" y="116.46" text-anchor="end" font-size="7.60">0.4</text>
<text x="253.60" y="104.65" text-anchor="end" font-size="7.60">0.6</text>
<text x="253.60" y="92.83" text-anchor="end" font-size="7.60">0.8</text>
<text x="253.60" y="81.01" text-anchor="end" font-size="7.60">1</text>
<text x="253.60" y="69.19" text-anchor="end" font-size="7.60">1.2</text>
<text x="253.60" y="57.37" text-anchor="end" font-size="7.60">1.4</text>
<text x="253.60" y="45.55" text-anchor="end" font-size="7.60">1.6</text>
<text x="253.60" y="33.74" text-anchor="end" font-size="7.60">1.8</text>
<text x="253.60" y="21.92" text-anchor="end" font-size="7.60">2</text>
<text x="253.60" y="10.10" text-anchor="end" font-size="7.60">2.2</text>
<line x1="257.00" y1="260.68" x2="447.20" y2="260.68" stroke="#000" stroke-width="0.7" stroke-dasharray="1,1"/>
<line x1="258.90" y1="235.12" x2="258.90" y2="237.25" stroke="#0000ff" stroke-width="0.8"/>
<circle cx="258.90" cy="236.18" r="1.15" fill="#0000ff"/>
<line x1="262.71" y1="255.22" x2="262.71" y2="257.36" stroke="#0000ff" stroke-width="0.8"/>
<circle cx="262.71" cy="256.29" r="1.15" fill="#0000ff"/>
<line x1="266.51" y1="259.26" x2="266.51" y2="261.39" stroke="#0000ff" stroke-width="0.8"/>
<circle cx="266.51" cy="260.33" r="1.15" fill="#0000ff"/>
<line x1="270.31" y1="263.53" x2="270.31" y2="265.66" stroke="#0000ff" stroke-width="0.8"/>
<circle cx="270.31" cy="264.60" r="1.15" fill="#0000ff"/>
<line x1="274.12" y1="264.66" x2="274.12" y2="266.79" stroke="#0000ff" stroke-width="0.8"/>
<circle cx="274.12" cy="265.72" r="1.15" fill="#0000ff"/>
<line x1="277.92" y1="266.73" x2="277.92" y2="268.87" stroke="#0000ff" stroke-width="0.8"/>
<circle cx="277.92" cy="267.80" r="1.15" fill="#0000ff"/>
<line x1="281.73" y1="266.94" x2="281.73" y2="269.25" stroke="#0000ff" stroke-width="0.8"/>
<circle cx="281.73" cy="268.10" r="1.15" fill="#0000ff"/>
<line x1="285.53" y1="263.37" x2="285.53" y2="265.82" stroke="#0000ff" stroke-width="0.8"/>
<circle cx="285.53" cy="264.60" r="1.15" fill="#0000ff"/>
<line x1="289.33" y1="268.05" x2="289.33" y2="270.76" stroke="#0000ff" stroke-width="0.8"/>
<circle cx="289.33" cy="269.40" r="1.15" fill="#0000ff"/>
<line x1="293.14" y1="265.56" x2="293.14" y2="268.50" stroke="#0000ff" stroke-width="0.8"/>
<circle cx="293.14" cy="267.03" r="1.15" fill="#0000ff"/>
<line x1="296.94" y1="268.15" x2="296.94" y2="271.25" stroke="#0000ff" stroke-width="0.8"/>
<circle cx="296.94" cy="269.70" r="1.15" fill="#0000ff"/>
<line x1="300.75" y1="265.97" x2="300.75" y2="269.28" stroke="#0000ff" stroke-width="0.8"/>
<circle cx="300.75" cy="267.62" r="1.15" fill="#0000ff"/>
<line x1="304.55" y1="267.96" x2="304.55" y2="271.44" stroke="#0000ff" stroke-width="0.8"/>
<circle cx="304.55" cy="269.70" r="1.15" fill="#0000ff"/>
<line x1="308.35" y1="262.34" x2="308.35" y2="265.91" stroke="#0000ff" stroke-width="0.8"/>
<circle cx="308.35" cy="264.12" r="1.15" fill="#0000ff"/>
<line x1="312.16" y1="260.51" x2="312.16" y2="264.30" stroke="#0000ff" stroke-width="0.8"/>
<circle cx="312.16" cy="262.40" r="1.15" fill="#0000ff"/>
<line x1="315.96" y1="266.41" x2="315.96" y2="270.37" stroke="#0000ff" stroke-width="0.8"/>
<circle cx="315.96" cy="268.39" r="1.15" fill="#0000ff"/>
<line x1="319.77" y1="259.79" x2="319.77" y2="263.94" stroke="#0000ff" stroke-width="0.8"/>
<circle cx="319.77" cy="261.87" r="1.15" fill="#0000ff"/>
<line x1="323.57" y1="258.83" x2="323.57" y2="263.13" stroke="#0000ff" stroke-width="0.8"/>
<circle cx="323.57" cy="260.98" r="1.15" fill="#0000ff"/>
<line x1="327.37" y1="261.99" x2="327.37" y2="266.49" stroke="#0000ff" stroke-width="0.8"/>
<circle cx="327.37" cy="264.24" r="1.15" fill="#0000ff"/>
<line x1="331.18" y1="263.77" x2="331.18" y2="268.27" stroke="#0000ff" stroke-width="0.8"/>
<circle cx="331.18" cy="266.02" r="1.15" fill="#0000ff"/>
<line x1="334.98" y1="261.63" x2="334.98" y2="266.14" stroke="#0000ff" stroke-width="0.8"/>
<circle cx="334.98" cy="263.88" r="1.15" fill="#0000ff"/>
<line x1="338.79" y1="261.72" x2="338.79" y2="266.76" stroke="#0000ff" stroke-width="0.8"/>
<circle cx="338.79" cy="264.24" r="1.15" fill="#0000ff"/>
<line x1="342.59" y1="254.35" x2="342.59" y2="259.42" stroke="#0000ff" stroke-width="0.8"/>
<circle cx="342.59" cy="256.89" r="1.15" fill="#0000ff"/>
<line x1="346.39" y1="260.86" x2="346.39" y2="265.96" stroke="#0000ff" stroke-width="0.8"/>
<circle cx="346.39" cy="263.41" r="1.15" fill="#0000ff"/>
<line x1="350.20" y1="263.21" x2="350.20" y2="268.35" stroke="#0000ff" stroke-width="0.8"/>
<circle cx="350.20" cy="265.78" r="1.15" fill="#0000ff"/>
<line x1="354.00" y1="251.10" x2="354.00" y2="256.27" stroke="#0000ff" stroke-width="0.8"/>
<circle cx="354.00" cy="253.68" r="1.15" fill="#0000ff"/>
<line x1="357.81" y1="262.70" x2="357.81" y2="267.91" stroke="#0000ff" stroke-width="0.8"/>
<circle cx="357.81" cy="265.31" r="1.15" fill="#0000ff"/>
<line x1="361.61" y1="256.69" x2="361.61" y2="261.94" stroke="#0000ff" stroke-width="0.8"/>
<circle cx="361.61" cy="259.32" r="1.15" fill="#0000ff"/>
<line x1="365.41" y1="251.52" x2="365.41" y2="256.80" stroke="#0000ff" stroke-width="0.8"/>
<circle cx="365.41" cy="254.16" r="1.15" fill="#0000ff"/>
<line x1="369.22" y1="257.43" x2="369.22" y2="262.75" stroke="#0000ff" stroke-width="0.8"/>
<circle cx="369.22" cy="260.09" r="1.15" fill="#0000ff"/>
<line x1="373.02" y1="259.96" x2="373.02" y2="265.32" stroke="#0000ff" stroke-width="0.8"/>
<circle cx="373.02" cy="262.64" r="1.15" fill="#0000ff"/>
<line x1="376.83" y1="257.92" x2="376.83" y2="263.44" stroke="#0000ff" stroke-width="0.8"/>
<circle cx="376.83" cy="260.68" r="1.15" fill="#0000ff"/>
<line x1="380.63" y1="253.69" x2="380.63" y2="259.37" stroke="#0000ff" stroke-width="0.8"/>
<circle cx="380.63" cy="256.53" r="1.15" fill="#0000ff"/>
<line x1="384.43" y1="254.36" x2="384.43" y2="260.24" stroke="#0000ff" stroke-width="0.8"/>
<circle cx="384.43" cy="257.30" r="1.15" fill="#0000ff"/>
<line x1="388.24" y1="255.88" x2="388.24" y2="261.93" stroke="#0000ff" stroke-width="0.8"/>
<circle cx="388.24" cy="258.90" r="1.15" fill="#0000ff"/>
<line x1="392.04" y1="257.68" x2="392.04" y2="263.92" stroke="#0000ff" stroke-width="0.8"/>
<circle cx="392.04" cy="260.80" r="1.15" fill="#0000ff"/>
<line x1="395.85" y1="257.57" x2="395.85" y2="264.03" stroke="#0000ff" stroke-width="0.8"/>
<circle cx="395.85" cy="260.80" r="1.15" fill="#0000ff"/>
<line x1="399.65" y1="250.81" x2="399.65" y2="257.50" stroke="#0000ff" stroke-width="0.8"/>
<circle cx="399.65" cy="254.16" r="1.15" fill="#0000ff"/>
<line x1="403.45" y1="250.68" x2="403.45" y2="257.63" stroke="#0000ff" stroke-width="0.8"/>
<circle cx="403.45" cy="254.16" r="1.15" fill="#0000ff"/>
<line x1="407.26" y1="257.89" x2="407.26" y2="265.13" stroke="#0000ff" stroke-width="0.8"/>
<circle cx="407.26" cy="261.51" r="1.15" fill="#0000ff"/>
<line x1="411.06" y1="252.74" x2="411.06" y2="260.32" stroke="#0000ff" stroke-width="0.8"/>
<circle cx="411.06" cy="256.53" r="1.15" fill="#0000ff"/>
<line x1="414.87" y1="257.77" x2="414.87" y2="265.25" stroke="#0000ff" stroke-width="0.8"/>
<circle cx="414.87" cy="261.51" r="1.15" fill="#0000ff"/>
<line x1="418.67" y1="256.70" x2="418.67" y2="264.07" stroke="#0000ff" stroke-width="0.8"/>
<circle cx="418.67" cy="260.39" r="1.15" fill="#0000ff"/>
<line x1="422.47" y1="257.87" x2="422.47" y2="265.15" stroke="#0000ff" stroke-width="0.8"/>
<circle cx="422.47" cy="261.51" r="1.15" fill="#0000ff"/>
<line x1="426.28" y1="261.00" x2="426.28" y2="268.19" stroke="#0000ff" stroke-width="0.8"/>
<circle cx="426.28" cy="264.60" r="1.15" fill="#0000ff"/>
<line x1="430.08" y1="252.98" x2="430.08" y2="260.08" stroke="#0000ff" stroke-width="0.8"/>
<circle cx="430.08" cy="256.53" r="1.15" fill="#0000ff"/>
<line x1="433.89" y1="255.99" x2="433.89" y2="263.00" stroke="#0000ff" stroke-width="0.8"/>
<circle cx="433.89" cy="259.50" r="1.15" fill="#0000ff"/>
<line x1="437.69" y1="252.71" x2="437.69" y2="257.98" stroke="#0000ff" stroke-width="0.8"/>
<circle cx="437.69" cy="255.34" r="1.15" fill="#0000ff"/>
<line x1="441.49" y1="242.27" x2="441.49" y2="247.54" stroke="#0000ff" stroke-width="0.8"/>
<circle cx="441.49" cy="244.90" r="1.15" fill="#0000ff"/>
<line x1="445.30" y1="234.58" x2="445.30" y2="252.38" stroke="#0000ff" stroke-width="0.8"/>
<circle cx="445.30" cy="243.48" r="1.15" fill="#0000ff"/>
<line x1="258.90" y1="245.44" x2="258.90" y2="256.11" stroke="#ff0000" stroke-width="0.8"/>
<circle cx="258.90" cy="250.78" r="1.15" fill="#ff0000"/>
<line x1="262.71" y1="268.44" x2="262.71" y2="275.46" stroke="#ff0000" stroke-width="0.8"/>
<circle cx="262.71" cy="271.95" r="1.15" fill="#ff0000"/>
<line x1="266.51" y1="263.52" x2="266.51" y2="269.71" stroke="#ff0000" stroke-width="0.8"/>
<circle cx="266.51" cy="266.61" r="1.15" fill="#ff0000"/>
<line x1="270.31" y1="269.61" x2="270.31" y2="275.48" stroke="#ff0000" stroke-width="0.8"/>
<circle cx="270.31" cy="272.55" r="1.15" fill="#ff0000"/>
<line x1="274.12" y1="263.67" x2="274.12" y2="269.55" stroke="#ff0000" stroke-width="0.8"/>
<circle cx="274.12" cy="266.61" r="1.15" fill="#ff0000"/>
<line x1="277.92" y1="270.55" x2="277.92" y2="276.44" stroke="#ff0000" stroke-width="0.8"/>
<circle cx="277.92" cy="273.49" r="1.15" fill="#ff0000"/>
<line x1="281.73" y1="264.08" x2="281.73" y2="269.97" stroke="#ff0000" stroke-width="0.8"/>
<circle cx="281.73" cy="267.03" r="1.15" fill="#ff0000"/>
<line x1="285.53" y1="265.68" x2="285.53" y2="271.58" stroke="#ff0000" stroke-width="0.8"/>
<circle cx="285.53" cy="268.63" r="1.15" fill="#ff0000"/>
<line x1="289.33" y1="269.59" x2="289.33" y2="275.50" stroke="#ff0000" stroke-width="0.8"/>
<circle cx="289.33" cy="272.55" r="1.15" fill="#ff0000"/>
<line x1="293.14" y1="266.74" x2="293.14" y2="272.65" stroke="#ff0000" stroke-width="0.8"/>
<circle cx="293.14" cy="269.70" r="1.15" fill="#ff0000"/>
<line x1="296.94" y1="267.21" x2="296.94" y2="273.13" stroke="#ff0000" stroke-width="0.8"/>
<circle cx="296.94" cy="270.17" r="1.15" fill="#ff0000"/>
<line x1="300.75" y1="266.44" x2="300.75" y2="272.36" stroke="#ff0000" stroke-width="0.8"/>
<circle cx="300.75" cy="269.40" r="1.15" fill="#ff0000"/>
<line x1="304.55" y1="267.21" x2="304.55" y2="273.14" stroke="#ff0000" stroke-width="0.8"/>
<circle cx="304.55" cy="270.17" r="1.15" fill="#ff0000"/>
<line x1="308.35" y1="261.93" x2="308.35" y2="267.86" stroke="#ff0000" stroke-width="0.8"/>
<circle cx="308.35" cy="264.89" r="1.15" fill="#ff0000"/>
<line x1="312.16" y1="267.63" x2="312.16" y2="273.55" stroke="#ff0000" stroke-width="0.8"/>
<circle cx="312.16" cy="270.59" r="1.15" fill="#ff0000"/>
<line x1="315.96" y1="268.52" x2="315.96" y2="274.44" stroke="#ff0000" stroke-width="0.8"/>
<circle cx="315.96" cy="271.48" r="1.15" fill="#ff0000"/>
<line x1="319.77" y1="265.44" x2="319.77" y2="271.35" stroke="#ff0000" stroke-width="0.8"/>
<circle cx="319.77" cy="268.39" r="1.15" fill="#ff0000"/>
<line x1="323.57" y1="268.52" x2="323.57" y2="274.43" stroke="#ff0000" stroke-width="0.8"/>
<circle cx="323.57" cy="271.48" r="1.15" fill="#ff0000"/>
<line x1="327.37" y1="267.46" x2="327.37" y2="273.36" stroke="#ff0000" stroke-width="0.8"/>
<circle cx="327.37" cy="270.41" r="1.15" fill="#ff0000"/>
<line x1="331.18" y1="254.77" x2="331.18" y2="260.67" stroke="#ff0000" stroke-width="0.8"/>
<circle cx="331.18" cy="257.72" r="1.15" fill="#ff0000"/>
<line x1="334.98" y1="262.84" x2="334.98" y2="268.73" stroke="#ff0000" stroke-width="0.8"/>
<circle cx="334.98" cy="265.78" r="1.15" fill="#ff0000"/>
<line x1="338.79" y1="264.44" x2="338.79" y2="270.33" stroke="#ff0000" stroke-width="0.8"/>
<circle cx="338.79" cy="267.38" r="1.15" fill="#ff0000"/>
<line x1="342.59" y1="266.46" x2="342.59" y2="272.34" stroke="#ff0000" stroke-width="0.8"/>
<circle cx="342.59" cy="269.40" r="1.15" fill="#ff0000"/>
<line x1="346.39" y1="262.49" x2="346.39" y2="268.37" stroke="#ff0000" stroke-width="0.8"/>
<circle cx="346.39" cy="265.43" r="1.15" fill="#ff0000"/>
<line x1="350.20" y1="262.07" x2="350.20" y2="267.95" stroke="#ff0000" stroke-width="0.8"/>
<circle cx="350.20" cy="265.01" r="1.15" fill="#ff0000"/>
<line x1="354.00" y1="261.54" x2="354.00" y2="267.41" stroke="#ff0000" stroke-width="0.8"/>
<circle cx="354.00" cy="264.48" r="1.15" fill="#ff0000"/>
<line x1="357.81" y1="266.28" x2="357.81" y2="271.93" stroke="#ff0000" stroke-width="0.8"/>
<circle cx="357.81" cy="269.11" r="1.15" fill="#ff0000"/>
<line x1="361.61" y1="261.51" x2="361.61" y2="266.97" stroke="#ff0000" stroke-width="0.8"/>
<circle cx="361.61" cy="264.24" r="1.15" fill="#ff0000"/>
<line x1="365.41" y1="260.00" x2="365.41" y2="265.28" stroke="#ff0000" stroke-width="0.8"/>
<circle cx="365.41" cy="262.64" r="1.15" fill="#ff0000"/>
<line x1="369.22" y1="257.53" x2="369.22" y2="262.64" stroke="#ff0000" stroke-width="0.8"/>
<circle cx="369.22" cy="260.09" r="1.15" fill="#ff0000"/>
<line x1="373.02" y1="260.93" x2="373.02" y2="265.89" stroke="#ff0000" stroke-width="0.8"/>
<circle cx="373.02" cy="263.41" r="1.15" fill="#ff0000"/>
<line x1="376.83" y1="258.57" x2="376.83" y2="263.39" stroke="#ff0000" stroke-width="0.8"/>
<circle cx="376.83" cy="260.98" r="1.15" fill="#ff0000"/>
<line x1="380.63" y1="248.85" x2="380.63" y2="253.53" stroke="#ff0000" stroke-width="0.8"/>
<circle cx="380.63" cy="251.19" r="1.15" fill="#ff0000"/>
<line x1="384.43" y1="254.25" x2="384.43" y2="258.81" stroke="#ff0000" stroke-width="0.8"/>
<circle cx="384.43" cy="256.53" r="1.15" fill="#ff0000"/>
<line x1="388.24" y1="254.96" x2="388.24" y2="259.29" stroke="#ff0000" stroke-width="0.8"/>
<circle cx="388.24" cy="257.12" r="1.15" fill="#ff0000"/>
<line x1="392.04" y1="252.09" x2="392.04" y2="256.22" stroke="#ff0000" stroke-width="0.8"/>
<circle cx="392.04" cy="254.16" r="1.15" fill="#ff0000"/>
<line x1="395.85" y1="253.36" x2="395.85" y2="257.32" stroke="#ff0000" stroke-width="0.8"/>
<circle cx="395.85" cy="255.34" r="1.15" fill="#ff0000"/>
<line x1="399.65" y1="255.23" x2="399.65" y2="259.02" stroke="#ff0000" stroke-width="0.8"/>
<circle cx="399.65" cy="257.12" r="1.15" fill="#ff0000"/>
<line x1="403.45" y1="252.34" x2="403.45" y2="255.98" stroke="#ff0000" stroke-width="0.8"/>
<circle cx="403.45" cy="254.16" r="1.15" fill="#ff0000"/>
<line x1="407.26" y1="250.04" x2="407.26" y2="253.53" stroke="#ff0000" stroke-width="0.8"/>
<circle cx="407.26" cy="251.78" r="1.15" fill="#ff0000"/>
<line x1="411.06" y1="255.46" x2="411.06" y2="258.79" stroke="#ff0000" stroke-width="0.8"/>
<circle cx="411.06" cy="257.12" r="1.15" fill="#ff0000"/>
<line x1="414.87" y1="254.95" x2="414.87" y2="258.11" stroke="#ff0000" stroke-width="0.8"/>
<circle cx="414.87" cy="256.53" r="1.15" fill="#ff0000"/>
<line x1="418.67" y1="250.91" x2="418.67" y2="253.85" stroke="#ff0000" stroke-width="0.8"/>
<circle cx="418.67" cy="252.38" r="1.15" fill="#ff0000"/>
<line x1="422.47" y1="255.16" x2="422.47" y2="257.90" stroke="#ff0000" stroke-width="0.8"/>
<circle cx="422.47" cy="256.53" r="1.15" fill="#ff0000"/>
<line x1="426.28" y1="252.92" x2="426.28" y2="255.40" stroke="#ff0000" stroke-width="0.8"/>
<circle cx="426.28" cy="254.16" r="1.15" fill="#ff0000"/>
<line x1="430.08" y1="248.05" x2="430.08" y2="250.18" stroke="#ff0000" stroke-width="0.8"/>
<circle cx="430.08" cy="249.11" r="1.15" fill="#ff0000"/>
<line x1="433.89" y1="244.96" x2="433.89" y2="247.10" stroke="#ff0000" stroke-width="0.8"/>
<circle cx="433.89" cy="246.03" r="1.15" fill="#ff0000"/>
<line x1="437.69" y1="237.67" x2="437.69" y2="239.80" stroke="#ff0000" stroke-width="0.8"/>
<circle cx="437.69" cy="238.73" r="1.15" fill="#ff0000"/>
<line x1="441.49" y1="235.89" x2="441.49" y2="238.02" stroke="#ff0000" stroke-width="0.8"/>
<circle cx="441.49" cy="236.95" r="1.15" fill="#ff0000"/>
<line x1="445.30" y1="209.02" x2="445.30" y2="211.15" stroke="#ff0000" stroke-width="0.8"/>
<circle cx="445.30" cy="210.08" r="1.15" fill="#ff0000"/>
<path d="M257.00 320.00 v-2.80 M260.80 320.00 v-1.70 M264.61 320.00 v-1.70 M268.41 320.00 v-1.70 M272.22 320.00 v-1.70 M276.02 320.00 v-2.80 M279.82 320.00 v-1.70 M283.63 320.00 v-1.70 M287.43 320.00 v-1.70 M291.24 320.00 v-1.70 M295.04 320.00 v-2.80 M298.84 320.00 v-1.70 M302.65 320.00 v-1.70 M306.45 320.00 v-1.70 M310.26 320.00 v-1.70 M314.06 320.00 v-2.80 M317.86 320.00 v-1.70 M321.67 320.00 v-1.70 M325.47 320.00 v-1.70 M329.28 320.00 v-1.70 M333.08 320.00 v-2.80 M336.88 320.00 v-1.70 M340.69 320.00 v-1.70 M344.49 320.00 v-1.70 M348.30 320.00 v-1.70 M352.10 320.00 v-2.80 M355.90 320.00 v-1.70 M359.71 320.00 v-1.70 M363.51 320.00 v-1.70 M367.32 320.00 v-1.70 M371.12 320.00 v-2.80 M374.92 320.00 v-1.70 M378.73 320.00 v-1.70 M382.53 320.00 v-1.70 M386.34 320.00 v-1.70 M390.14 320.00 v-2.80 M393.94 320.00 v-1.70 M397.75 320.00 v-1.70 M401.55 320.00 v-1.70 M405.36 320.00 v-1.70 M409.16 320.00 v-2.80 M412.96 320.00 v-1.70 M416.77 320.00 v-1.70 M420.57 320.00 v-1.70 M424.38 320.00 v-1.70 M428.18 320.00 v-2.80 M431.98 320.00 v-1.70 M435.79 320.00 v-1.70 M439.59 320.00 v-1.70 M443.40 320.00 v-1.70 M447.20 320.00 v-2.80 M257.00 320.00 h2.80 M257.00 317.03 h1.70 M257.00 314.07 h1.70 M257.00 311.10 h1.70 M257.00 308.14 h2.80 M257.00 305.17 h1.70 M257.00 302.20 h1.70 M257.00 299.24 h1.70 M257.00 296.27 h2.80 M257.00 293.31 h1.70 M257.00 290.34 h1.70 M257.00 287.38 h1.70 M257.00 284.41 h2.80 M257.00 281.44 h1.70 M257.00 278.48 h1.70 M257.00 275.51 h1.70 M257.00 272.55 h2.80 M257.00 269.58 h1.70 M257.00 266.61 h1.70 M257.00 263.65 h1.70 M257.00 260.68 h2.80 M257.00 257.72 h1.70 M257.00 254.75 h1.70 M257.00 251.78 h1.70 M257.00 248.82 h2.80 M257.00 245.85 h1.70 M257.00 242.89 h1.70 M257.00 239.92 h1.70 M257.00 236.95 h2.80 M257.00 233.99 h1.70 M257.00 231.02 h1.70 M257.00 228.06 h1.70 M257.00 225.09 h2.80 M257.00 222.12 h1.70 M257.00 219.16 h1.70 M257.00 216.19 h1.70 M257.00 213.23 h2.80 M257.00 210.26 h1.70 M257.00 207.30 h1.70 M257.00 204.33 h1.70 M257.00 201.36 h2.80 M257.00 198.40 h1.70 M257.00 195.43 h1.70 M257.00 192.47 h1.70 M257.00 189.50 h2.80" stroke="#111" stroke-width="0.85" fill="none"/>
<rect x="257.00" y="189.50" width="190.20" height="130.50" fill="none" stroke="#777" stroke-width="0.80"/>
<text x="257.00" y="328.10" text-anchor="middle" font-size="7.60">0</text>
<text x="276.02" y="328.10" text-anchor="middle" font-size="7.60">0.1</text>
<text x="295.04" y="328.10" text-anchor="middle" font-size="7.60">0.2</text>
<text x="314.06" y="328.10" text-anchor="middle" font-size="7.60">0.3</text>
<text x="333.08" y="328.10" text-anchor="middle" font-size="7.60">0.4</text>
<text x="352.10" y="328.10" text-anchor="middle" font-size="7.60">0.5</text>
<text x="371.12" y="328.10" text-anchor="middle" font-size="7.60">0.6</text>
<text x="390.14" y="328.10" text-anchor="middle" font-size="7.60">0.7</text>
<text x="409.16" y="328.10" text-anchor="middle" font-size="7.60">0.8</text>
<text x="428.18" y="328.10" text-anchor="middle" font-size="7.60">0.9</text>
<text x="447.20" y="328.10" text-anchor="middle" font-size="7.60">1</text>
<text x="253.60" y="322.70" text-anchor="end" font-size="7.60">0</text>
<text x="253.60" y="310.84" text-anchor="end" font-size="7.60">0.2</text>
<text x="253.60" y="298.97" text-anchor="end" font-size="7.60">0.4</text>
<text x="253.60" y="287.11" text-anchor="end" font-size="7.60">0.6</text>
<text x="253.60" y="275.25" text-anchor="end" font-size="7.60">0.8</text>
<text x="253.60" y="263.38" text-anchor="end" font-size="7.60">1</text>
<text x="253.60" y="251.52" text-anchor="end" font-size="7.60">1.2</text>
<text x="253.60" y="239.65" text-anchor="end" font-size="7.60">1.4</text>
<text x="253.60" y="227.79" text-anchor="end" font-size="7.60">1.6</text>
<text x="253.60" y="215.93" text-anchor="end" font-size="7.60">1.8</text>
<text x="253.60" y="204.06" text-anchor="end" font-size="7.60">2</text>
<text x="253.60" y="192.20" text-anchor="end" font-size="7.60">2.2</text>
<text x="61.16" y="154.60" font-size="7.85">GNN output for </text>
<text x="113.27" y="154.60" font-size="7.85" font-style="italic">n</text>
<text x="117.49" y="154.60" font-size="7.85" font-style="italic">/</text>
<text x="120.17" y="154.60" font-size="7.85">Λ</text>
<text x="125.86" y="154.60" font-size="7.85"> classification</text>
<text x="0" y="0" font-size="7.85" text-anchor="middle" transform="translate(5.40 72.40) rotate(-90)">Events / (0.02)</text>
<text x="22.20" y="7.20" font-size="10">×</text>
<text x="28.00" y="6.70" font-size="7.90">10</text>
<text x="35.90" y="4.33" font-size="5.69">3</text>
<text x="298.06" y="154.60" font-size="7.85">GNN output for </text>
<text x="350.17" y="154.60" font-size="7.85" font-style="italic">n</text>
<text x="354.39" y="154.60" font-size="7.85" font-style="italic">/</text>
<text x="357.07" y="154.60" font-size="7.85">Λ</text>
<text x="362.76" y="154.60" font-size="7.85"> classification</text>
<text x="0" y="0" font-size="7.85" text-anchor="middle" transform="translate(242.00 72.40) rotate(-90)">Data / MC ratio</text>
<text x="534.71" y="154.60" font-size="7.85">GNN output for </text>
<text x="586.82" y="154.60" font-size="7.85" font-style="italic">n</text>
<text x="591.04" y="154.60" font-size="7.85" font-style="italic">/</text>
<text x="593.72" y="154.60" font-size="7.85">Λ</text>
<text x="599.41" y="154.60" font-size="7.85"> classification</text>
<text x="0" y="0" font-size="7.85" text-anchor="middle" transform="translate(479.00 72.40) rotate(-90)">Events / (0.02)</text>
<text x="495.80" y="7.20" font-size="10">×</text>
<text x="501.60" y="6.70" font-size="7.90">10</text>
<text x="509.50" y="4.33" font-size="5.69">3</text>
<text x="61.16" y="337.20" font-size="7.85">GNN output for </text>
<text x="113.27" y="337.20" font-size="7.85" font-style="italic">n</text>
<line x1="114.76" y1="331.78" x2="117.27" y2="331.78" stroke="#000" stroke-width="0.45"/>
<text x="117.49" y="337.20" font-size="7.85" font-style="italic">/</text>
<text x="120.17" y="337.20" font-size="7.85">Λ</text>
<line x1="121.76" y1="330.92" x2="124.27" y2="330.92" stroke="#000" stroke-width="0.45"/>
<text x="125.86" y="337.20" font-size="7.85"> classification</text>
<text x="0" y="0" font-size="7.85" text-anchor="middle" transform="translate(5.40 254.75) rotate(-90)">Events / (0.02)</text>
<text x="22.20" y="189.30" font-size="10">×</text>
<text x="28.00" y="188.80" font-size="7.90">10</text>
<text x="35.90" y="186.43" font-size="5.69">3</text>
<text x="298.06" y="337.20" font-size="7.85">GNN output for </text>
<text x="350.17" y="337.20" font-size="7.85" font-style="italic">n</text>
<line x1="351.66" y1="331.78" x2="354.17" y2="331.78" stroke="#000" stroke-width="0.45"/>
<text x="354.39" y="337.20" font-size="7.85" font-style="italic">/</text>
<text x="357.07" y="337.20" font-size="7.85">Λ</text>
<line x1="358.66" y1="330.92" x2="361.17" y2="330.92" stroke="#000" stroke-width="0.45"/>
<text x="362.76" y="337.20" font-size="7.85"> classification</text>
<text x="0" y="0" font-size="7.85" text-anchor="middle" transform="translate(242.00 254.75) rotate(-90)">Data / MC ratio</text>
<text x="534.56" y="337.20" font-size="7.85">GNN output for </text>
<text x="586.67" y="337.20" font-size="7.85" font-style="italic">n</text>
<line x1="588.16" y1="331.78" x2="590.67" y2="331.78" stroke="#000" stroke-width="0.45"/>
<text x="590.89" y="337.20" font-size="7.85" font-style="italic">/</text>
<text x="593.57" y="337.20" font-size="7.85">Λ</text>
<line x1="595.16" y1="330.92" x2="597.67" y2="330.92" stroke="#000" stroke-width="0.45"/>
<text x="599.26" y="337.20" font-size="7.85"> classification</text>
<text x="0" y="0" font-size="7.85" text-anchor="middle" transform="translate(479.00 254.65) rotate(-90)">Events / (0.02)</text>
<text x="495.80" y="189.10" font-size="10">×</text>
<text x="501.60" y="188.60" font-size="7.90">10</text>
<text x="509.50" y="186.23" font-size="5.69">3</text>
<text x="29.40" y="24.35" font-size="10.80">(a)</text>
<text x="269.00" y="23.95" font-size="10.80">(b)</text>
<text x="505.20" y="24.35" font-size="10.80">(c)</text>
<text x="30.20" y="211.05" font-size="10.80">(d)</text>
<text x="269.20" y="209.85" font-size="10.80">(e)</text>
<text x="506.00" y="208.40" font-size="10.80">(f)</text>
<line x1="83.80" y1="14.80" x2="83.80" y2="22.60" stroke="#ff0000" stroke-width="0.8"/>
<circle cx="83.80" cy="18.70" r="1.15" fill="#ff0000"/>
<line x1="83.80" y1="27.20" x2="83.80" y2="35.00" stroke="#0000ff" stroke-width="0.8"/>
<circle cx="83.80" cy="31.10" r="1.15" fill="#0000ff"/>
<rect x="76.10" y="39.20" width="15.80" height="9.30" fill="url(#pr)" stroke="#c8604a" stroke-width="0.9"/>
<rect x="76.10" y="51.30" width="15.80" height="9.00" fill="url(#pb)" stroke="#5f8cc2" stroke-width="0.9"/>
<text x="97.40" y="21.60" font-size="7.70">Data:</text>
<text x="117.00" y="21.60" font-size="7.70" font-style="italic">J</text>
<text x="120.92" y="21.60" font-size="7.70" font-style="italic">/</text>
<text x="123.56" y="21.60" font-size="7.70" font-style="italic">ψ</text>
<path d="M131.07 19.52 h5.66" stroke="#000" stroke-width="0.55"/>
<path d="M138.24 19.52 l-2.31 -1.08 v2.16 z" fill="#000"/>
<text x="141.00" y="21.60" font-size="7.70" font-style="italic">p</text>
<line x1="142.46" y1="16.29" x2="144.93" y2="16.29" stroke="#000" stroke-width="0.45"/>
<text x="144.85" y="21.60" font-size="7.70" font-style="italic">π</text>
<text x="148.71" y="19.29" font-size="5.54">+</text>
<text x="152.53" y="21.60" font-size="7.70" font-style="italic">n</text>
<text x="97.40" y="33.50" font-size="7.70">Data:</text>
<text x="117.00" y="33.50" font-size="7.70" font-style="italic">J</text>
<text x="120.92" y="33.50" font-size="7.70" font-style="italic">/</text>
<text x="123.56" y="33.50" font-size="7.70" font-style="italic">ψ</text>
<path d="M131.07 31.42 h5.66" stroke="#000" stroke-width="0.55"/>
<path d="M138.24 31.42 l-2.31 -1.08 v2.16 z" fill="#000"/>
<text x="141.00" y="33.50" font-size="7.70" font-style="italic">p</text>
<line x1="142.46" y1="28.19" x2="144.93" y2="28.19" stroke="#000" stroke-width="0.45"/>
<text x="144.85" y="33.50" font-size="7.70" font-style="italic">K</text>
<text x="149.99" y="31.19" font-size="5.54">+</text>
<text x="153.81" y="33.50" font-size="7.70">Λ</text>
<text x="97.10" y="46.60" font-size="7.70">MC:</text>
<text x="114.20" y="46.60" font-size="7.70" font-style="italic">J</text>
<text x="118.12" y="46.60" font-size="7.70" font-style="italic">/</text>
<text x="120.76" y="46.60" font-size="7.70" font-style="italic">ψ</text>
<path d="M128.17 44.52 h5.66" stroke="#000" stroke-width="0.55"/>
<path d="M135.34 44.52 l-2.31 -1.08 v2.16 z" fill="#000"/>
<text x="138.20" y="46.60" font-size="7.70" font-style="italic">p</text>
<line x1="139.66" y1="41.29" x2="142.13" y2="41.29" stroke="#000" stroke-width="0.45"/>
<text x="142.05" y="46.60" font-size="7.70" font-style="italic">π</text>
<text x="145.91" y="44.29" font-size="5.54">+</text>
<text x="149.73" y="46.60" font-size="7.70" font-style="italic">n</text>
<text x="97.10" y="58.70" font-size="7.70">MC:</text>
<text x="114.20" y="58.70" font-size="7.70" font-style="italic">J</text>
<text x="118.12" y="58.70" font-size="7.70" font-style="italic">/</text>
<text x="120.76" y="58.70" font-size="7.70" font-style="italic">ψ</text>
<path d="M128.17 56.62 h5.66" stroke="#000" stroke-width="0.55"/>
<path d="M135.34 56.62 l-2.31 -1.08 v2.16 z" fill="#000"/>
<text x="138.20" y="58.70" font-size="7.70" font-style="italic">p</text>
<line x1="139.66" y1="53.39" x2="142.13" y2="53.39" stroke="#000" stroke-width="0.45"/>
<text x="142.05" y="58.70" font-size="7.70" font-style="italic">K</text>
<text x="147.19" y="56.39" font-size="5.54">+</text>
<text x="151.01" y="58.70" font-size="7.70">Λ</text>
<line x1="83.80" y1="197.20" x2="83.80" y2="205.00" stroke="#ff0000" stroke-width="0.8"/>
<circle cx="83.80" cy="201.10" r="1.15" fill="#ff0000"/>
<line x1="83.80" y1="209.60" x2="83.80" y2="217.40" stroke="#0000ff" stroke-width="0.8"/>
<circle cx="83.80" cy="213.50" r="1.15" fill="#0000ff"/>
<rect x="76.60" y="221.60" width="15.40" height="9.30" fill="url(#pr)" stroke="#c8604a" stroke-width="0.9"/>
<rect x="76.60" y="233.70" width="15.40" height="9.00" fill="url(#pb)" stroke="#5f8cc2" stroke-width="0.9"/>
<text x="97.40" y="204.00" font-size="7.70">Data:</text>
<text x="117.00" y="204.00" font-size="7.70" font-style="italic">J</text>
<text x="120.92" y="204.00" font-size="7.70" font-style="italic">/</text>
<text x="123.56" y="204.00" font-size="7.70" font-style="italic">ψ</text>
<path d="M131.07 201.92 h5.66" stroke="#000" stroke-width="0.55"/>
<path d="M138.24 201.92 l-2.31 -1.08 v2.16 z" fill="#000"/>
<text x="141.00" y="204.00" font-size="7.70" font-style="italic">p</text>
<text x="144.85" y="204.00" font-size="7.70" font-style="italic">π</text>
<text x="148.71" y="201.69" font-size="5.54">−</text>
<text x="152.53" y="204.00" font-size="7.70" font-style="italic">n</text>
<line x1="154.00" y1="198.69" x2="156.46" y2="198.69" stroke="#000" stroke-width="0.45"/>
<text x="97.40" y="215.90" font-size="7.70">Data:</text>
<text x="117.00" y="215.90" font-size="7.70" font-style="italic">J</text>
<text x="120.92" y="215.90" font-size="7.70" font-style="italic">/</text>
<text x="123.56" y="215.90" font-size="7.70" font-style="italic">ψ</text>
<path d="M131.07 213.82 h5.66" stroke="#000" stroke-width="0.55"/>
<path d="M138.24 213.82 l-2.31 -1.08 v2.16 z" fill="#000"/>
<text x="141.00" y="215.90" font-size="7.70" font-style="italic">p</text>
<text x="144.85" y="215.90" font-size="7.70" font-style="italic">K</text>
<text x="149.99" y="213.59" font-size="5.54">−</text>
<text x="153.81" y="215.90" font-size="7.70">Λ</text>
<line x1="155.37" y1="209.74" x2="157.84" y2="209.74" stroke="#000" stroke-width="0.45"/>
<text x="97.10" y="229.00" font-size="7.70">MC:</text>
<text x="114.20" y="229.00" font-size="7.70" font-style="italic">J</text>
<text x="118.12" y="229.00" font-size="7.70" font-style="italic">/</text>
<text x="120.76" y="229.00" font-size="7.70" font-style="italic">ψ</text>
<path d="M128.17 226.92 h5.66" stroke="#000" stroke-width="0.55"/>
<path d="M135.34 226.92 l-2.31 -1.08 v2.16 z" fill="#000"/>
<text x="138.20" y="229.00" font-size="7.70" font-style="italic">p</text>
<text x="142.05" y="229.00" font-size="7.70" font-style="italic">π</text>
<text x="145.91" y="226.69" font-size="5.54">−</text>
<text x="149.73" y="229.00" font-size="7.70" font-style="italic">n</text>
<line x1="151.20" y1="223.69" x2="153.66" y2="223.69" stroke="#000" stroke-width="0.45"/>
<text x="97.10" y="241.10" font-size="7.70">MC:</text>
<text x="114.20" y="241.10" font-size="7.70" font-style="italic">J</text>
<text x="118.12" y="241.10" font-size="7.70" font-style="italic">/</text>
<text x="120.76" y="241.10" font-size="7.70" font-style="italic">ψ</text>
<path d="M128.17 239.02 h5.66" stroke="#000" stroke-width="0.55"/>
<path d="M135.34 239.02 l-2.31 -1.08 v2.16 z" fill="#000"/>
<text x="138.20" y="241.10" font-size="7.70" font-style="italic">p</text>
<text x="142.05" y="241.10" font-size="7.70" font-style="italic">K</text>
<text x="147.19" y="238.79" font-size="5.54">−</text>
<text x="151.01" y="241.10" font-size="7.70">Λ</text>
<line x1="152.57" y1="234.94" x2="155.04" y2="234.94" stroke="#000" stroke-width="0.45"/>
<line x1="540.80" y1="14.80" x2="540.80" y2="22.60" stroke="#ff0000" stroke-width="0.8"/>
<circle cx="540.80" cy="18.70" r="1.15" fill="#ff0000"/>
<line x1="540.80" y1="27.20" x2="540.80" y2="35.00" stroke="#0000ff" stroke-width="0.8"/>
<circle cx="540.80" cy="31.10" r="1.15" fill="#0000ff"/>
<rect x="531.90" y="39.20" width="18.60" height="9.30" fill="url(#pr)" stroke="#c8604a" stroke-width="0.9"/>
<rect x="531.90" y="51.30" width="18.60" height="9.00" fill="url(#pb)" stroke="#5f8cc2" stroke-width="0.9"/>
<text x="556.90" y="21.60" font-size="7.70">Data:</text>
<text x="576.50" y="21.60" font-size="7.70" font-style="italic">J</text>
<text x="580.42" y="21.60" font-size="7.70" font-style="italic">/</text>
<text x="583.06" y="21.60" font-size="7.70" font-style="italic">ψ</text>
<path d="M591.17 19.52 h5.66" stroke="#000" stroke-width="0.55"/>
<path d="M598.34 19.52 l-2.31 -1.08 v2.16 z" fill="#000"/>
<text x="599.80" y="21.60" font-size="7.70">Σ</text>
<text x="604.28" y="19.29" font-size="5.54">+</text>
<text x="608.11" y="21.60" font-size="7.70">(</text>
<text x="610.67" y="21.60" font-size="7.70" font-style="italic">n</text>
<text x="614.52" y="21.60" font-size="7.70" font-style="italic">π</text>
<text x="618.38" y="19.29" font-size="5.54">+</text>
<text x="622.21" y="21.60" font-size="7.70">)</text>
<text x="624.77" y="21.60" font-size="7.70">Σ</text>
<line x1="625.78" y1="15.44" x2="628.24" y2="15.44" stroke="#000" stroke-width="0.45"/>
<text x="629.25" y="19.29" font-size="5.54">−</text>
<text x="633.08" y="21.60" font-size="7.70">(</text>
<text x="635.64" y="21.60" font-size="7.70" font-style="italic">p</text>
<line x1="637.11" y1="16.29" x2="639.57" y2="16.29" stroke="#000" stroke-width="0.45"/>
<text x="639.49" y="21.60" font-size="7.70" font-style="italic">π</text>
<text x="643.35" y="19.29" font-size="5.54">0</text>
<text x="646.82" y="21.60" font-size="7.70">)</text>
<text x="556.90" y="33.50" font-size="7.70">Data:</text>
<text x="576.50" y="33.50" font-size="7.70" font-style="italic">J</text>
<text x="580.42" y="33.50" font-size="7.70" font-style="italic">/</text>
<text x="583.06" y="33.50" font-size="7.70" font-style="italic">ψ</text>
<path d="M591.17 31.42 h5.66" stroke="#000" stroke-width="0.55"/>
<path d="M598.34 31.42 l-2.31 -1.08 v2.16 z" fill="#000"/>
<text x="599.80" y="33.50" font-size="7.70">Ξ</text>
<text x="604.75" y="31.19" font-size="5.54">−</text>
<text x="608.58" y="33.50" font-size="7.70">(</text>
<text x="611.14" y="33.50" font-size="7.70">Λ</text>
<text x="616.73" y="33.50" font-size="7.70" font-style="italic">π</text>
<text x="620.58" y="31.19" font-size="5.54">−</text>
<text x="624.41" y="33.50" font-size="7.70">)</text>
<text x="626.97" y="33.50" font-size="7.70">Ξ</text>
<line x1="628.22" y1="27.34" x2="630.68" y2="27.34" stroke="#000" stroke-width="0.45"/>
<text x="631.93" y="31.19" font-size="5.54">+</text>
<text x="635.75" y="33.50" font-size="7.70">(</text>
<text x="638.32" y="33.50" font-size="7.70">Λ</text>
<line x1="639.88" y1="27.34" x2="642.34" y2="27.34" stroke="#000" stroke-width="0.45"/>
<text x="643.90" y="33.50" font-size="7.70" font-style="italic">π</text>
<text x="647.76" y="31.19" font-size="5.54">+</text>
<text x="651.58" y="33.50" font-size="7.70">)</text>
<text x="556.90" y="46.60" font-size="7.70">MC:</text>
<text x="573.40" y="46.60" font-size="7.70" font-style="italic">J</text>
<text x="577.32" y="46.60" font-size="7.70" font-style="italic">/</text>
<text x="579.96" y="46.60" font-size="7.70" font-style="italic">ψ</text>
<path d="M588.37 44.52 h5.66" stroke="#000" stroke-width="0.55"/>
<path d="M595.54 44.52 l-2.31 -1.08 v2.16 z" fill="#000"/>
<text x="596.90" y="46.60" font-size="7.70">Σ</text>
<text x="601.38" y="44.29" font-size="5.54">+</text>
<text x="605.21" y="46.60" font-size="7.70">(</text>
<text x="607.77" y="46.60" font-size="7.70" font-style="italic">n</text>
<text x="611.62" y="46.60" font-size="7.70" font-style="italic">π</text>
<text x="615.48" y="44.29" font-size="5.54">+</text>
<text x="619.31" y="46.60" font-size="7.70">)</text>
<text x="621.87" y="46.60" font-size="7.70">Σ</text>
<line x1="622.88" y1="40.44" x2="625.34" y2="40.44" stroke="#000" stroke-width="0.45"/>
<text x="626.35" y="44.29" font-size="5.54">−</text>
<text x="630.18" y="46.60" font-size="7.70">(</text>
<text x="632.74" y="46.60" font-size="7.70" font-style="italic">p</text>
<line x1="634.21" y1="41.29" x2="636.67" y2="41.29" stroke="#000" stroke-width="0.45"/>
<text x="636.59" y="46.60" font-size="7.70" font-style="italic">π</text>
<text x="640.45" y="44.29" font-size="5.54">0</text>
<text x="643.92" y="46.60" font-size="7.70">)</text>
<text x="556.90" y="58.70" font-size="7.70">MC:</text>
<text x="573.40" y="58.70" font-size="7.70" font-style="italic">J</text>
<text x="577.32" y="58.70" font-size="7.70" font-style="italic">/</text>
<text x="579.96" y="58.70" font-size="7.70" font-style="italic">ψ</text>
<path d="M588.37 56.62 h5.66" stroke="#000" stroke-width="0.55"/>
<path d="M595.54 56.62 l-2.31 -1.08 v2.16 z" fill="#000"/>
<text x="596.90" y="58.70" font-size="7.70">Ξ</text>
<text x="601.85" y="56.39" font-size="5.54">−</text>
<text x="605.68" y="58.70" font-size="7.70">(</text>
<text x="608.24" y="58.70" font-size="7.70">Λ</text>
<text x="613.83" y="58.70" font-size="7.70" font-style="italic">π</text>
<text x="617.68" y="56.39" font-size="5.54">−</text>
<text x="621.51" y="58.70" font-size="7.70">)</text>
<text x="624.07" y="58.70" font-size="7.70">Ξ</text>
<line x1="625.32" y1="52.54" x2="627.78" y2="52.54" stroke="#000" stroke-width="0.45"/>
<text x="629.03" y="56.39" font-size="5.54">+</text>
<text x="632.85" y="58.70" font-size="7.70">(</text>
<text x="635.42" y="58.70" font-size="7.70">Λ</text>
<line x1="636.98" y1="52.54" x2="639.44" y2="52.54" stroke="#000" stroke-width="0.45"/>
<text x="641.00" y="58.70" font-size="7.70" font-style="italic">π</text>
<text x="644.86" y="56.39" font-size="5.54">+</text>
<text x="648.68" y="58.70" font-size="7.70">)</text>
<line x1="540.80" y1="197.00" x2="540.80" y2="204.80" stroke="#ff0000" stroke-width="0.8"/>
<circle cx="540.80" cy="200.90" r="1.15" fill="#ff0000"/>
<line x1="540.80" y1="209.40" x2="540.80" y2="217.20" stroke="#0000ff" stroke-width="0.8"/>
<circle cx="540.80" cy="213.30" r="1.15" fill="#0000ff"/>
<rect x="531.90" y="221.40" width="18.60" height="9.30" fill="url(#pr)" stroke="#c8604a" stroke-width="0.9"/>
<rect x="531.90" y="233.50" width="18.60" height="9.00" fill="url(#pb)" stroke="#5f8cc2" stroke-width="0.9"/>
<text x="556.90" y="203.80" font-size="7.70">Data:</text>
<text x="576.50" y="203.80" font-size="7.70" font-style="italic">J</text>
<text x="580.42" y="203.80" font-size="7.70" font-style="italic">/</text>
<text x="583.06" y="203.80" font-size="7.70" font-style="italic">ψ</text>
<path d="M591.17 201.72 h5.66" stroke="#000" stroke-width="0.55"/>
<path d="M598.34 201.72 l-2.31 -1.08 v2.16 z" fill="#000"/>
<text x="599.80" y="203.80" font-size="7.70">Σ</text>
<line x1="600.81" y1="197.64" x2="603.27" y2="197.64" stroke="#000" stroke-width="0.45"/>
<text x="604.28" y="201.49" font-size="5.54">−</text>
<text x="608.11" y="203.80" font-size="7.70">(</text>
<text x="610.67" y="203.80" font-size="7.70" font-style="italic">n</text>
<line x1="612.14" y1="198.49" x2="614.60" y2="198.49" stroke="#000" stroke-width="0.45"/>
<text x="614.52" y="203.80" font-size="7.70" font-style="italic">π</text>
<text x="618.38" y="201.49" font-size="5.54">−</text>
<text x="622.21" y="203.80" font-size="7.70">)</text>
<text x="624.77" y="203.80" font-size="7.70">Σ</text>
<text x="629.25" y="201.49" font-size="5.54">+</text>
<text x="633.08" y="203.80" font-size="7.70">(</text>
<text x="635.64" y="203.80" font-size="7.70" font-style="italic">p</text>
<text x="639.49" y="203.80" font-size="7.70" font-style="italic">π</text>
<text x="643.35" y="201.49" font-size="5.54">0</text>
<text x="646.82" y="203.80" font-size="7.70">)</text>
<text x="556.90" y="215.70" font-size="7.70">Data:</text>
<text x="576.50" y="215.70" font-size="7.70" font-style="italic">J</text>
<text x="580.42" y="215.70" font-size="7.70" font-style="italic">/</text>
<text x="583.06" y="215.70" font-size="7.70" font-style="italic">ψ</text>
<path d="M591.17 213.62 h5.66" stroke="#000" stroke-width="0.55"/>
<path d="M598.34 213.62 l-2.31 -1.08 v2.16 z" fill="#000"/>
<text x="599.80" y="215.70" font-size="7.70">Ξ</text>
<line x1="601.04" y1="209.54" x2="603.51" y2="209.54" stroke="#000" stroke-width="0.45"/>
<text x="604.75" y="213.39" font-size="5.54">+</text>
<text x="608.58" y="215.70" font-size="7.70">(</text>
<text x="611.14" y="215.70" font-size="7.70">Λ</text>
<line x1="612.70" y1="209.54" x2="615.17" y2="209.54" stroke="#000" stroke-width="0.45"/>
<text x="616.73" y="215.70" font-size="7.70" font-style="italic">π</text>
<text x="620.58" y="213.39" font-size="5.54">+</text>
<text x="624.41" y="215.70" font-size="7.70">)</text>
<text x="626.97" y="215.70" font-size="7.70">Ξ</text>
<text x="631.93" y="213.39" font-size="5.54">−</text>
<text x="635.75" y="215.70" font-size="7.70">(</text>
<text x="638.32" y="215.70" font-size="7.70">Λ</text>
<text x="643.90" y="215.70" font-size="7.70" font-style="italic">π</text>
<text x="647.76" y="213.39" font-size="5.54">−</text>
<text x="651.58" y="215.70" font-size="7.70">)</text>
<text x="556.90" y="228.80" font-size="7.70">MC:</text>
<text x="573.40" y="228.80" font-size="7.70" font-style="italic">J</text>
<text x="577.32" y="228.80" font-size="7.70" font-style="italic">/</text>
<text x="579.96" y="228.80" font-size="7.70" font-style="italic">ψ</text>
<path d="M588.37 226.72 h5.66" stroke="#000" stroke-width="0.55"/>
<path d="M595.54 226.72 l-2.31 -1.08 v2.16 z" fill="#000"/>
<text x="596.90" y="228.80" font-size="7.70">Σ</text>
<line x1="597.91" y1="222.64" x2="600.37" y2="222.64" stroke="#000" stroke-width="0.45"/>
<text x="601.38" y="226.49" font-size="5.54">−</text>
<text x="605.21" y="228.80" font-size="7.70">(</text>
<text x="607.77" y="228.80" font-size="7.70" font-style="italic">n</text>
<line x1="609.24" y1="223.49" x2="611.70" y2="223.49" stroke="#000" stroke-width="0.45"/>
<text x="611.62" y="228.80" font-size="7.70" font-style="italic">π</text>
<text x="615.48" y="226.49" font-size="5.54">−</text>
<text x="619.31" y="228.80" font-size="7.70">)</text>
<text x="621.87" y="228.80" font-size="7.70">Σ</text>
<text x="626.35" y="226.49" font-size="5.54">+</text>
<text x="630.18" y="228.80" font-size="7.70">(</text>
<text x="632.74" y="228.80" font-size="7.70" font-style="italic">p</text>
<text x="636.59" y="228.80" font-size="7.70" font-style="italic">π</text>
<text x="640.45" y="226.49" font-size="5.54">0</text>
<text x="643.92" y="228.80" font-size="7.70">)</text>
<text x="556.90" y="240.90" font-size="7.70">MC:</text>
<text x="573.40" y="240.90" font-size="7.70" font-style="italic">J</text>
<text x="577.32" y="240.90" font-size="7.70" font-style="italic">/</text>
<text x="579.96" y="240.90" font-size="7.70" font-style="italic">ψ</text>
<path d="M588.37 238.82 h5.66" stroke="#000" stroke-width="0.55"/>
<path d="M595.54 238.82 l-2.31 -1.08 v2.16 z" fill="#000"/>
<text x="596.90" y="240.90" font-size="7.70">Ξ</text>
<line x1="598.14" y1="234.74" x2="600.61" y2="234.74" stroke="#000" stroke-width="0.45"/>
<text x="601.85" y="238.59" font-size="5.54">+</text>
<text x="605.68" y="240.90" font-size="7.70">(</text>
<text x="608.24" y="240.90" font-size="7.70">Λ</text>
<line x1="609.80" y1="234.74" x2="612.27" y2="234.74" stroke="#000" stroke-width="0.45"/>
<text x="613.83" y="240.90" font-size="7.70" font-style="italic">π</text>
<text x="617.68" y="238.59" font-size="5.54">+</text>
<text x="621.51" y="240.90" font-size="7.70">)</text>
<text x="624.07" y="240.90" font-size="7.70">Ξ</text>
<text x="629.03" y="238.59" font-size="5.54">−</text>
<text x="632.85" y="240.90" font-size="7.70">(</text>
<text x="635.42" y="240.90" font-size="7.70">Λ</text>
<text x="641.00" y="240.90" font-size="7.70" font-style="italic">π</text>
<text x="644.86" y="238.59" font-size="5.54">−</text>
<text x="648.68" y="240.90" font-size="7.70">)</text>
<line x1="314.90" y1="23.10" x2="314.90" y2="32.10" stroke="#ff0000" stroke-width="0.8"/>
<circle cx="314.90" cy="27.60" r="0.90" fill="#ff0000"/>
<text x="326.90" y="30.80" font-size="7.70">Weight factors for </text>
<text x="385.27" y="30.80" font-size="7.70" font-style="italic">n</text>
<line x1="314.90" y1="38.50" x2="314.90" y2="47.50" stroke="#0000ff" stroke-width="0.8"/>
<circle cx="314.90" cy="43.00" r="0.90" fill="#0000ff"/>
<text x="326.90" y="46.20" font-size="7.70">Weight factors for </text>
<text x="385.27" y="46.20" font-size="7.70">Λ</text>
<line x1="314.30" y1="208.40" x2="314.30" y2="217.40" stroke="#ff0000" stroke-width="0.8"/>
<circle cx="314.30" cy="212.90" r="0.90" fill="#ff0000"/>
<text x="326.10" y="216.10" font-size="7.70">Weight factors for </text>
<text x="384.47" y="216.10" font-size="7.70" font-style="italic">n</text>
<line x1="385.93" y1="210.79" x2="388.39" y2="210.79" stroke="#000" stroke-width="0.45"/>
<line x1="314.30" y1="223.30" x2="314.30" y2="232.30" stroke="#0000ff" stroke-width="0.8"/>
<circle cx="314.30" cy="227.80" r="0.90" fill="#0000ff"/>
<text x="326.10" y="231.00" font-size="7.70">Weight factors for </text>
<text x="384.47" y="231.00" font-size="7.70">Λ</text>
<line x1="386.03" y1="224.84" x2="388.49" y2="224.84" stroke="#000" stroke-width="0.45"/>
</svg></body></html>
